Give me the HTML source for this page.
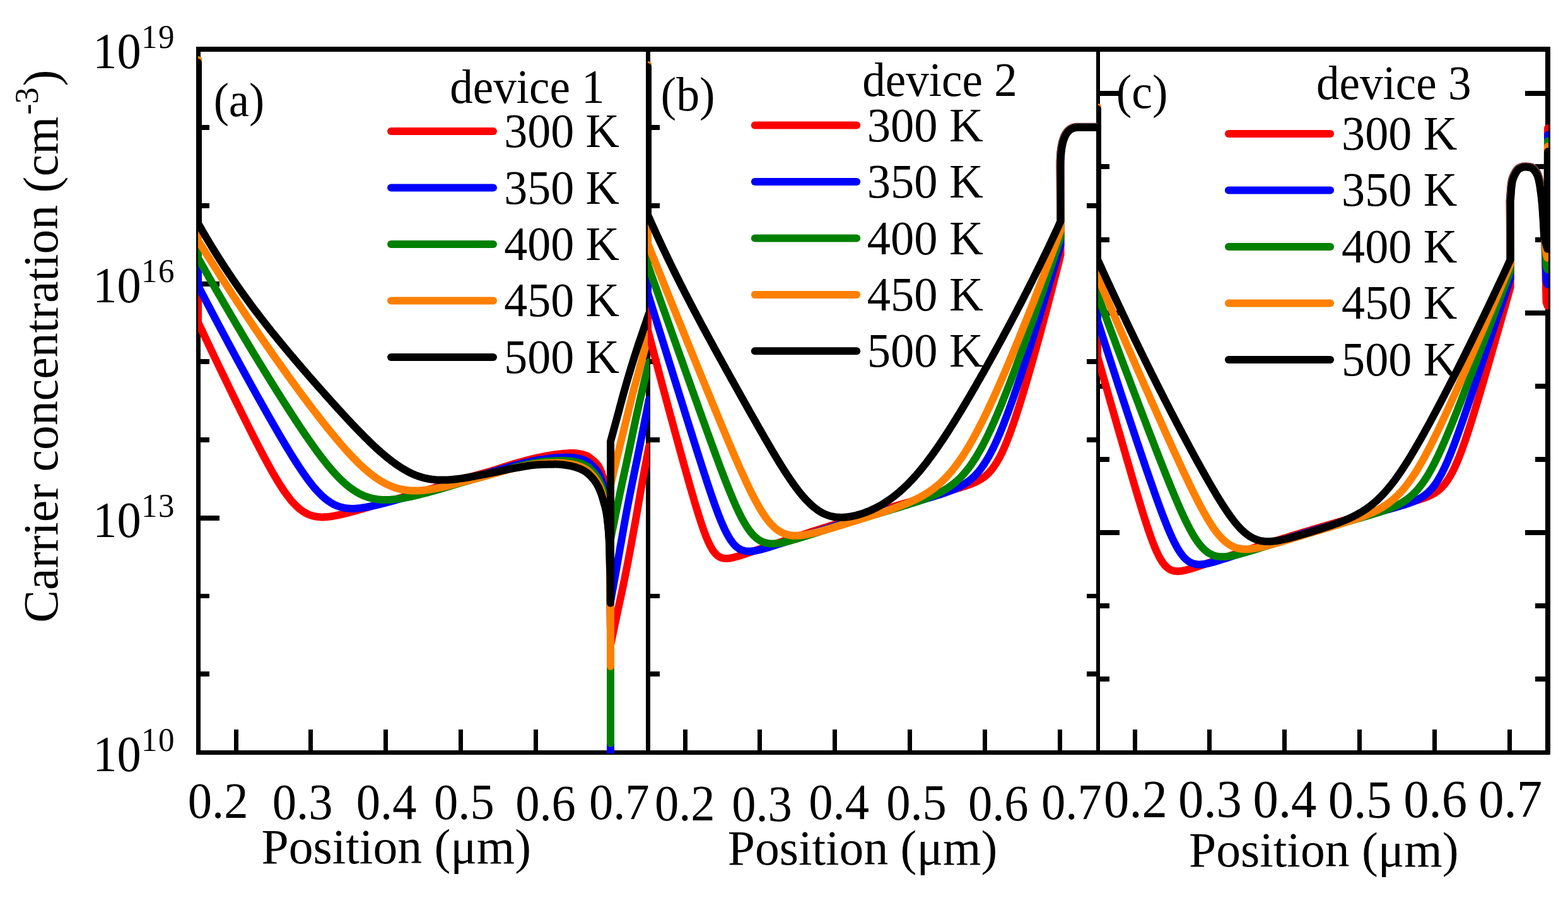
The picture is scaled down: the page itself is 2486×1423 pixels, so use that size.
<!DOCTYPE html>
<html lang="en">
<head>
<meta charset="utf-8">
<title>Carrier concentration vs position</title>
<style>
html,body{margin:0;padding:0;background:#fff;}
body{width:2486px;height:1423px;overflow:hidden;}
svg{display:block;}
text{font-family:"Liberation Serif","Times New Roman",Times,serif;fill:#000;}
</style>
</head>
<body>
<svg xmlns="http://www.w3.org/2000/svg" width="2486" height="1423" viewBox="0 0 2486 1423">
<defs>
<clipPath id="ca"><rect x="314" y="74" width="715.2" height="1120"/></clipPath>
<clipPath id="cb"><rect x="1027" y="74" width="717.5" height="1120"/></clipPath>
<clipPath id="cc"><rect x="1741" y="74" width="714" height="1120"/></clipPath>
</defs>
<rect width="2486" height="1423" fill="#fff"/>
<g fill="#000" shape-rendering="crispEdges">
<rect x="311.00" y="74.08" width="2146.95" height="7.85"/>
<rect x="311.00" y="1189.10" width="2146.95" height="6.90"/>
<rect x="311.00" y="78.00" width="6.90" height="1114.55"/>
<rect x="1024.15" y="78.00" width="6.90" height="1114.55"/>
<rect x="1737.55" y="78.00" width="6.90" height="1114.55"/>
<rect x="2450.40" y="78.00" width="7.60" height="1114.55"/>
<rect x="314.45" y="198.38" width="17.95" height="7.85"/>
<rect x="314.45" y="322.07" width="17.95" height="7.85"/>
<rect x="314.45" y="445.78" width="33.95" height="7.85"/>
<rect x="314.45" y="569.48" width="17.95" height="7.85"/>
<rect x="314.45" y="693.18" width="17.95" height="7.85"/>
<rect x="314.45" y="816.88" width="33.95" height="7.85"/>
<rect x="314.45" y="940.58" width="17.95" height="7.85"/>
<rect x="314.45" y="1064.28" width="17.95" height="7.85"/>
<rect x="1027.60" y="198.38" width="17.95" height="7.85"/>
<rect x="1723.05" y="198.38" width="17.95" height="7.85"/>
<rect x="1027.60" y="322.07" width="17.95" height="7.85"/>
<rect x="1723.05" y="322.07" width="17.95" height="7.85"/>
<rect x="1027.60" y="569.48" width="17.95" height="7.85"/>
<rect x="1723.05" y="569.48" width="17.95" height="7.85"/>
<rect x="1027.60" y="693.18" width="17.95" height="7.85"/>
<rect x="1723.05" y="693.18" width="17.95" height="7.85"/>
<rect x="1027.60" y="940.58" width="17.95" height="7.85"/>
<rect x="1723.05" y="940.58" width="17.95" height="7.85"/>
<rect x="1027.60" y="1064.28" width="17.95" height="7.85"/>
<rect x="1723.05" y="1064.28" width="17.95" height="7.85"/>
<rect x="1741.00" y="143.67" width="33.95" height="7.85"/>
<rect x="2418.40" y="143.67" width="35.80" height="7.85"/>
<rect x="1741.00" y="259.68" width="17.95" height="7.85"/>
<rect x="2434.40" y="259.68" width="19.80" height="7.85"/>
<rect x="1741.00" y="375.68" width="17.95" height="7.85"/>
<rect x="2434.40" y="375.68" width="19.80" height="7.85"/>
<rect x="1741.00" y="491.68" width="33.95" height="7.85"/>
<rect x="2418.40" y="491.68" width="35.80" height="7.85"/>
<rect x="1741.00" y="607.68" width="17.95" height="7.85"/>
<rect x="2434.40" y="607.68" width="19.80" height="7.85"/>
<rect x="1741.00" y="723.68" width="17.95" height="7.85"/>
<rect x="2434.40" y="723.68" width="19.80" height="7.85"/>
<rect x="1741.00" y="839.68" width="33.95" height="7.85"/>
<rect x="2418.40" y="839.68" width="35.80" height="7.85"/>
<rect x="1741.00" y="955.68" width="17.95" height="7.85"/>
<rect x="2434.40" y="955.68" width="19.80" height="7.85"/>
<rect x="1741.00" y="1071.67" width="17.95" height="7.85"/>
<rect x="2434.40" y="1071.67" width="19.80" height="7.85"/>
<rect x="370.50" y="1156.15" width="7.00" height="36.40"/>
<rect x="489.40" y="1156.15" width="7.00" height="36.40"/>
<rect x="608.30" y="1156.15" width="7.00" height="36.40"/>
<rect x="727.20" y="1156.15" width="7.00" height="36.40"/>
<rect x="846.10" y="1156.15" width="7.00" height="36.40"/>
<rect x="965.00" y="1156.15" width="7.00" height="36.40"/>
<rect x="1082.50" y="1156.15" width="7.00" height="36.40"/>
<rect x="1201.40" y="1156.15" width="7.00" height="36.40"/>
<rect x="1320.30" y="1156.15" width="7.00" height="36.40"/>
<rect x="1439.20" y="1156.15" width="7.00" height="36.40"/>
<rect x="1558.10" y="1156.15" width="7.00" height="36.40"/>
<rect x="1677.00" y="1156.15" width="7.00" height="36.40"/>
<rect x="1795.50" y="1156.15" width="7.00" height="36.40"/>
<rect x="1914.40" y="1156.15" width="7.00" height="36.40"/>
<rect x="2033.30" y="1156.15" width="7.00" height="36.40"/>
<rect x="2152.20" y="1156.15" width="7.00" height="36.40"/>
<rect x="2271.10" y="1156.15" width="7.00" height="36.40"/>
<rect x="2390.00" y="1156.15" width="7.00" height="36.40"/>
</g>
<g fill="none" stroke-width="12" stroke-linejoin="round" stroke-linecap="round">
<g clip-path="url(#ca)">
<path d="M314.0 95.0 L314.0 510.7 L314.5 511.7 L316.0 514.9 L317.5 518.1 L319.0 521.2 L320.5 524.4 L322.0 527.6 L323.5 530.8 L325.0 533.9 L326.5 537.1 L328.0 540.3 L329.5 543.4 L331.0 546.6 L332.5 549.8 L334.0 552.9 L335.5 556.1 L337.0 559.2 L338.5 562.4 L340.0 565.5 L341.5 568.6 L343.0 571.8 L344.5 574.9 L346.0 578.0 L347.5 581.2 L349.0 584.3 L350.5 587.4 L352.0 590.5 L353.5 593.6 L355.0 596.7 L356.5 599.8 L358.0 602.9 L359.5 606.0 L361.0 609.1 L362.5 612.2 L364.0 615.3 L365.5 618.4 L367.0 621.5 L368.5 624.5 L370.0 627.6 L371.5 630.7 L373.0 633.7 L374.5 636.8 L376.0 639.9 L377.5 642.9 L379.0 645.9 L380.5 649.0 L382.0 652.0 L383.5 655.1 L385.0 658.1 L386.5 661.1 L388.0 664.1 L389.5 667.1 L391.0 670.1 L392.5 673.1 L394.0 676.1 L395.5 679.1 L397.0 682.1 L398.5 685.0 L400.0 688.0 L401.5 691.0 L403.0 693.9 L404.5 696.8 L406.0 699.8 L407.5 702.7 L409.0 705.6 L410.5 708.5 L412.0 711.4 L413.5 714.2 L415.0 717.1 L416.5 719.9 L418.0 722.8 L419.5 725.6 L421.0 728.4 L422.5 731.1 L424.0 733.9 L425.5 736.7 L427.0 739.4 L428.5 742.1 L430.0 744.8 L431.5 747.4 L433.0 750.0 L434.5 752.6 L436.0 755.2 L437.5 757.7 L439.0 760.3 L440.5 762.7 L442.0 765.2 L443.5 767.6 L445.0 769.9 L446.5 772.3 L448.0 774.5 L449.5 776.8 L451.0 779.0 L452.5 781.1 L454.0 783.2 L455.5 785.2 L457.0 787.2 L458.5 789.2 L460.0 791.0 L461.5 792.8 L463.0 794.6 L464.5 796.3 L466.0 797.9 L467.5 799.5 L469.0 801.0 L470.5 802.5 L472.0 803.8 L473.5 805.2 L475.0 806.4 L476.5 807.6 L478.0 808.7 L479.5 809.8 L481.0 810.8 L482.5 811.7 L484.0 812.6 L485.5 813.4 L487.0 814.2 L488.5 814.9 L490.0 815.5 L491.5 816.1 L493.0 816.6 L494.5 817.1 L496.0 817.5 L497.5 817.9 L499.0 818.2 L500.5 818.5 L502.0 818.7 L503.5 818.9 L505.0 819.1 L506.5 819.2 L508.0 819.3 L509.5 819.4 L511.0 819.4 L512.5 819.4 L514.0 819.3 L515.5 819.3 L517.0 819.2 L518.5 819.1 L520.0 818.9 L521.5 818.8 L523.0 818.6 L524.5 818.4 L526.0 818.2 L527.5 817.9 L529.0 817.7 L530.5 817.4 L532.0 817.1 L533.5 816.8 L535.0 816.5 L536.5 816.2 L538.0 815.9 L539.5 815.6 L541.0 815.2 L542.5 814.9 L544.0 814.5 L545.5 814.2 L547.0 813.8 L548.5 813.4 L550.0 813.1 L551.5 812.7 L553.0 812.3 L554.5 811.9 L556.0 811.5 L557.5 811.1 L559.0 810.7 L560.5 810.3 L562.0 809.9 L563.5 809.5 L565.0 809.0 L566.5 808.6 L568.0 808.2 L569.5 807.8 L571.0 807.3 L572.5 806.9 L574.0 806.5 L575.5 806.1 L577.0 805.6 L578.5 805.2 L580.0 804.8 L581.5 804.4 L583.0 803.9 L584.5 803.5 L586.0 803.1 L587.5 802.6 L589.0 802.2 L590.5 801.8 L592.0 801.4 L593.5 800.9 L595.0 800.5 L596.5 800.1 L598.0 799.6 L599.5 799.2 L601.0 798.8 L602.5 798.4 L604.0 797.9 L605.5 797.5 L607.0 797.1 L608.5 796.6 L610.0 796.2 L611.5 795.8 L613.0 795.4 L614.5 794.9 L616.0 794.5 L617.5 794.1 L619.0 793.6 L620.5 793.2 L622.0 792.8 L623.5 792.3 L625.0 791.9 L626.5 791.5 L628.0 791.0 L629.5 790.6 L631.0 790.1 L632.5 789.7 L634.0 789.3 L635.5 788.8 L637.0 788.4 L638.5 787.9 L640.0 787.5 L641.5 787.1 L643.0 786.6 L644.5 786.2 L646.0 785.7 L647.5 785.3 L649.0 784.9 L650.5 784.4 L652.0 784.0 L653.5 783.5 L655.0 783.1 L656.5 782.7 L658.0 782.2 L659.5 781.8 L661.0 781.3 L662.5 780.9 L664.0 780.4 L665.5 780.0 L667.0 779.6 L668.5 779.1 L670.0 778.7 L671.5 778.2 L673.0 777.8 L674.5 777.3 L676.0 776.9 L677.5 776.4 L679.0 776.0 L680.5 775.5 L682.0 775.1 L683.5 774.6 L685.0 774.2 L686.5 773.7 L688.0 773.3 L689.5 772.8 L691.0 772.4 L692.5 771.9 L694.0 771.4 L695.5 771.0 L697.0 770.5 L698.5 770.1 L700.0 769.6 L701.5 769.1 L703.0 768.7 L704.5 768.2 L706.0 767.7 L707.5 767.3 L709.0 766.8 L710.5 766.4 L712.0 765.9 L713.5 765.4 L715.0 765.0 L716.5 764.5 L718.0 764.0 L719.5 763.6 L721.0 763.1 L722.5 762.7 L724.0 762.2 L725.5 761.7 L727.0 761.3 L728.5 760.8 L730.0 760.4 L731.5 759.9 L733.0 759.5 L734.5 759.0 L736.0 758.6 L737.5 758.1 L739.0 757.7 L740.5 757.3 L742.0 756.8 L743.5 756.4 L745.0 756.0 L746.5 755.5 L748.0 755.1 L749.5 754.7 L751.0 754.3 L752.5 753.9 L754.0 753.4 L755.5 753.0 L757.0 752.6 L758.5 752.2 L760.0 751.8 L761.5 751.4 L763.0 750.9 L764.5 750.5 L766.0 750.1 L767.5 749.7 L769.0 749.3 L770.5 748.8 L772.0 748.4 L773.5 748.0 L775.0 747.6 L776.5 747.1 L778.0 746.7 L779.5 746.2 L781.0 745.8 L782.5 745.3 L784.0 744.9 L785.5 744.4 L787.0 743.9 L788.5 743.4 L790.0 742.9 L791.5 742.5 L793.0 742.0 L794.5 741.5 L796.0 741.0 L797.5 740.5 L799.0 740.0 L800.5 739.5 L802.0 739.0 L803.5 738.6 L805.0 738.1 L806.5 737.6 L808.0 737.1 L809.5 736.7 L811.0 736.2 L812.5 735.8 L814.0 735.3 L815.5 734.9 L817.0 734.5 L818.5 734.0 L820.0 733.6 L821.5 733.2 L823.0 732.8 L824.5 732.4 L826.0 731.9 L827.5 731.5 L829.0 731.1 L830.5 730.7 L832.0 730.3 L833.5 729.9 L835.0 729.5 L836.5 729.1 L838.0 728.7 L839.5 728.4 L841.0 728.0 L842.5 727.6 L844.0 727.2 L845.5 726.9 L847.0 726.5 L848.5 726.2 L850.0 725.9 L851.5 725.5 L853.0 725.2 L854.5 724.9 L856.0 724.6 L857.5 724.3 L859.0 724.0 L860.5 723.7 L862.0 723.4 L863.5 723.1 L865.0 722.8 L866.5 722.5 L868.0 722.2 L869.5 721.9 L871.0 721.7 L872.5 721.4 L874.0 721.2 L875.5 720.9 L877.0 720.7 L878.5 720.5 L880.0 720.3 L881.5 720.1 L883.0 719.9 L884.5 719.7 L886.0 719.6 L887.5 719.4 L889.0 719.3 L890.5 719.1 L892.0 719.0 L893.5 718.8 L895.0 718.7 L896.5 718.5 L898.0 718.4 L899.5 718.3 L901.0 718.2 L902.5 718.1 L904.0 718.1 L905.5 718.0 L907.0 718.0 L908.5 718.0 L910.0 718.1 L911.5 718.1 L913.0 718.3 L914.5 718.5 L916.0 718.7 L917.5 718.9 L919.0 719.2 L920.5 719.4 L922.0 719.7 L923.5 720.0 L925.0 720.4 L926.5 720.9 L928.0 721.4 L929.5 722.0 L930.0 722.2 L930.2 722.3 L930.5 722.4 L930.8 722.6 L931.0 722.7 L931.2 722.8 L931.5 722.9 L931.8 723.1 L932.0 723.2 L932.2 723.4 L932.5 723.5 L932.8 723.7 L933.0 723.8 L933.2 724.0 L933.5 724.2 L933.8 724.4 L934.0 724.5 L934.2 724.7 L934.5 724.9 L934.8 725.1 L935.0 725.3 L935.2 725.5 L935.5 725.7 L935.8 725.9 L936.0 726.1 L936.2 726.3 L936.5 726.5 L936.8 726.7 L937.0 726.9 L937.2 727.1 L937.5 727.3 L937.8 727.5 L938.0 727.7 L938.2 727.9 L938.5 728.2 L938.8 728.4 L939.0 728.6 L939.2 728.8 L939.5 729.0 L939.8 729.2 L940.0 729.4 L940.2 729.6 L940.5 729.8 L940.8 730.0 L941.0 730.2 L941.2 730.4 L941.5 730.6 L941.8 730.9 L942.0 731.1 L942.2 731.3 L942.5 731.5 L942.8 731.7 L943.0 732.0 L943.2 732.2 L943.5 732.4 L943.8 732.7 L944.0 732.9 L944.2 733.1 L944.5 733.4 L944.8 733.7 L945.0 733.9 L945.2 734.2 L945.5 734.4 L945.8 734.7 L946.0 735.0 L946.2 735.3 L946.5 735.6 L946.8 735.9 L947.0 736.2 L947.2 736.5 L947.5 736.8 L947.8 737.2 L948.0 737.5 L948.2 737.9 L948.5 738.3 L948.8 738.6 L949.0 739.1 L949.2 739.5 L949.5 739.9 L949.8 740.4 L950.0 740.8 L950.2 741.3 L950.5 741.8 L950.8 742.3 L951.0 742.8 L951.2 743.3 L951.5 743.9 L951.8 744.4 L952.0 745.0 L952.2 745.6 L952.5 746.1 L952.8 746.7 L953.0 747.3 L953.2 747.9 L953.5 748.6 L953.8 749.2 L954.0 749.9 L954.2 750.6 L954.5 751.4 L954.8 752.1 L955.0 752.9 L955.2 753.7 L955.5 754.5 L955.8 755.3 L956.0 756.2 L956.2 757.1 L956.5 758.0 L956.8 759.0 L957.0 760.0 L957.2 761.0 L957.5 762.1 L957.8 763.2 L958.0 764.3 L958.2 765.5 L958.5 766.7 L958.8 768.0 L959.0 769.3 L959.2 770.6 L959.5 772.0 L959.8 773.5 L960.0 775.0 L960.2 776.6 L960.5 778.2 L960.8 779.9 L961.0 781.7 L961.2 783.7 L961.5 785.7 L961.8 787.8 L962.0 790.0 L962.2 792.3 L962.5 794.7 L962.8 797.3 L963.0 800.0 L963.2 802.8 L963.5 805.8 L963.8 809.0 L964.0 812.4 L964.2 816.1 L964.5 820.0 L964.8 824.4 L965.0 829.1 L965.2 834.3 L965.5 840.0 L965.8 846.5 L966.0 854.3 L966.2 863.4 L966.5 874.0 L966.8 886.2 L967.0 900.0 L967.2 918.1 L967.5 941.9 L967.8 969.7 L968.0 1000.0 L968.0 1210.0 L968.0 1022.0 L969.5 1014.9 L971.0 1007.8 L972.5 1000.7 L974.0 993.6 L975.5 986.5 L977.0 979.4 L978.5 972.4 L980.0 965.3 L981.5 958.3 L983.0 951.4 L984.5 944.5 L986.0 937.5 L987.5 930.5 L989.0 923.3 L990.5 916.0 L992.0 908.5 L993.5 900.9 L995.0 893.1 L996.5 885.3 L998.0 877.4 L999.5 869.3 L1001.0 861.3 L1002.5 853.1 L1004.0 844.9 L1005.5 836.7 L1007.0 828.4 L1008.5 820.1 L1010.0 811.5 L1011.5 802.9 L1013.0 794.2 L1014.5 785.5 L1016.0 776.8 L1017.5 768.3 L1019.0 760.0 L1020.5 751.8 L1022.0 743.8 L1023.5 735.8 L1025.0 727.9 L1026.5 720.0 L1028.0 712.3 L1029.0 707.2" stroke="#ff0000"/>
<path d="M314.0 95.0 L314.0 452.7 L314.5 453.7 L316.0 456.6 L317.5 459.4 L319.0 462.3 L320.5 465.2 L322.0 468.1 L323.5 471.0 L325.0 473.8 L326.5 476.7 L328.0 479.5 L329.5 482.4 L331.0 485.3 L332.5 488.1 L334.0 491.0 L335.5 493.8 L337.0 496.7 L338.5 499.5 L340.0 502.3 L341.5 505.2 L343.0 508.0 L344.5 510.8 L346.0 513.7 L347.5 516.5 L349.0 519.3 L350.5 522.1 L352.0 524.9 L353.5 527.7 L355.0 530.6 L356.5 533.4 L358.0 536.2 L359.5 539.0 L361.0 541.8 L362.5 544.5 L364.0 547.3 L365.5 550.1 L367.0 552.9 L368.5 555.7 L370.0 558.5 L371.5 561.2 L373.0 564.0 L374.5 566.8 L376.0 569.5 L377.5 572.3 L379.0 575.1 L380.5 577.8 L382.0 580.6 L383.5 583.3 L385.0 586.0 L386.5 588.8 L388.0 591.5 L389.5 594.3 L391.0 597.0 L392.5 599.7 L394.0 602.4 L395.5 605.2 L397.0 607.9 L398.5 610.6 L400.0 613.3 L401.5 616.0 L403.0 618.7 L404.5 621.4 L406.0 624.1 L407.5 626.8 L409.0 629.5 L410.5 632.2 L412.0 634.8 L413.5 637.5 L415.0 640.2 L416.5 642.8 L418.0 645.5 L419.5 648.2 L421.0 650.8 L422.5 653.5 L424.0 656.1 L425.5 658.7 L427.0 661.4 L428.5 664.0 L430.0 666.6 L431.5 669.2 L433.0 671.8 L434.5 674.4 L436.0 677.0 L437.5 679.6 L439.0 682.2 L440.5 684.8 L442.0 687.4 L443.5 689.9 L445.0 692.5 L446.5 695.0 L448.0 697.5 L449.5 700.1 L451.0 702.6 L452.5 705.1 L454.0 707.6 L455.5 710.1 L457.0 712.5 L458.5 715.0 L460.0 717.4 L461.5 719.9 L463.0 722.3 L464.5 724.7 L466.0 727.1 L467.5 729.4 L469.0 731.8 L470.5 734.1 L472.0 736.4 L473.5 738.7 L475.0 741.0 L476.5 743.2 L478.0 745.5 L479.5 747.7 L481.0 749.9 L482.5 752.0 L484.0 754.1 L485.5 756.2 L487.0 758.3 L488.5 760.3 L490.0 762.3 L491.5 764.3 L493.0 766.2 L494.5 768.1 L496.0 770.0 L497.5 771.8 L499.0 773.6 L500.5 775.3 L502.0 777.0 L503.5 778.6 L505.0 780.2 L506.5 781.8 L508.0 783.3 L509.5 784.7 L511.0 786.2 L512.5 787.5 L514.0 788.8 L515.5 790.1 L517.0 791.3 L518.5 792.5 L520.0 793.6 L521.5 794.6 L523.0 795.6 L524.5 796.6 L526.0 797.5 L527.5 798.3 L529.0 799.1 L530.5 799.9 L532.0 800.6 L533.5 801.2 L535.0 801.8 L536.5 802.4 L538.0 802.9 L539.5 803.4 L541.0 803.8 L542.5 804.2 L544.0 804.5 L545.5 804.8 L547.0 805.1 L548.5 805.3 L550.0 805.5 L551.5 805.6 L553.0 805.8 L554.5 805.8 L556.0 805.9 L557.5 805.9 L559.0 805.9 L560.5 805.9 L562.0 805.9 L563.5 805.8 L565.0 805.7 L566.5 805.6 L568.0 805.5 L569.5 805.3 L571.0 805.1 L572.5 804.9 L574.0 804.7 L575.5 804.5 L577.0 804.3 L578.5 804.1 L580.0 803.8 L581.5 803.5 L583.0 803.3 L584.5 803.0 L586.0 802.7 L587.5 802.4 L589.0 802.1 L590.5 801.7 L592.0 801.4 L593.5 801.1 L595.0 800.7 L596.5 800.4 L598.0 800.0 L599.5 799.7 L601.0 799.3 L602.5 799.0 L604.0 798.6 L605.5 798.2 L607.0 797.8 L608.5 797.5 L610.0 797.1 L611.5 796.7 L613.0 796.3 L614.5 795.9 L616.0 795.5 L617.5 795.1 L619.0 794.7 L620.5 794.3 L622.0 793.9 L623.5 793.5 L625.0 793.1 L626.5 792.7 L628.0 792.2 L629.5 791.8 L631.0 791.4 L632.5 791.0 L634.0 790.6 L635.5 790.1 L637.0 789.7 L638.5 789.3 L640.0 788.9 L641.5 788.4 L643.0 788.0 L644.5 787.6 L646.0 787.1 L647.5 786.7 L649.0 786.3 L650.5 785.8 L652.0 785.4 L653.5 785.0 L655.0 784.5 L656.5 784.1 L658.0 783.7 L659.5 783.2 L661.0 782.8 L662.5 782.4 L664.0 781.9 L665.5 781.5 L667.0 781.1 L668.5 780.6 L670.0 780.2 L671.5 779.7 L673.0 779.3 L674.5 778.9 L676.0 778.4 L677.5 778.0 L679.0 777.5 L680.5 777.1 L682.0 776.6 L683.5 776.2 L685.0 775.7 L686.5 775.3 L688.0 774.8 L689.5 774.4 L691.0 773.9 L692.5 773.5 L694.0 773.0 L695.5 772.6 L697.0 772.1 L698.5 771.7 L700.0 771.2 L701.5 770.7 L703.0 770.3 L704.5 769.8 L706.0 769.4 L707.5 768.9 L709.0 768.4 L710.5 768.0 L712.0 767.5 L713.5 767.1 L715.0 766.6 L716.5 766.1 L718.0 765.7 L719.5 765.2 L721.0 764.8 L722.5 764.3 L724.0 763.9 L725.5 763.4 L727.0 763.0 L728.5 762.5 L730.0 762.1 L731.5 761.6 L733.0 761.2 L734.5 760.7 L736.0 760.3 L737.5 759.8 L739.0 759.4 L740.5 759.0 L742.0 758.5 L743.5 758.1 L745.0 757.7 L746.5 757.2 L748.0 756.8 L749.5 756.4 L751.0 756.0 L752.5 755.6 L754.0 755.1 L755.5 754.7 L757.0 754.3 L758.5 753.9 L760.0 753.5 L761.5 753.1 L763.0 752.7 L764.5 752.3 L766.0 751.8 L767.5 751.4 L769.0 751.0 L770.5 750.6 L772.0 750.2 L773.5 749.8 L775.0 749.4 L776.5 748.9 L778.0 748.5 L779.5 748.1 L781.0 747.6 L782.5 747.2 L784.0 746.8 L785.5 746.3 L787.0 745.9 L788.5 745.4 L790.0 744.9 L791.5 744.5 L793.0 744.0 L794.5 743.6 L796.0 743.1 L797.5 742.6 L799.0 742.2 L800.5 741.7 L802.0 741.3 L803.5 740.8 L805.0 740.4 L806.5 740.0 L808.0 739.5 L809.5 739.1 L811.0 738.7 L812.5 738.3 L814.0 737.9 L815.5 737.5 L817.0 737.1 L818.5 736.7 L820.0 736.3 L821.5 736.0 L823.0 735.6 L824.5 735.2 L826.0 734.8 L827.5 734.5 L829.0 734.1 L830.5 733.7 L832.0 733.4 L833.5 733.0 L835.0 732.7 L836.5 732.3 L838.0 732.0 L839.5 731.6 L841.0 731.3 L842.5 731.0 L844.0 730.7 L845.5 730.4 L847.0 730.1 L848.5 729.8 L850.0 729.5 L851.5 729.3 L853.0 729.0 L854.5 728.8 L856.0 728.5 L857.5 728.3 L859.0 728.1 L860.5 727.9 L862.0 727.6 L863.5 727.4 L865.0 727.2 L866.5 727.0 L868.0 726.8 L869.5 726.6 L871.0 726.4 L872.5 726.2 L874.0 726.0 L875.5 725.9 L877.0 725.7 L878.5 725.5 L880.0 725.4 L881.5 725.3 L883.0 725.2 L884.5 725.1 L886.0 725.0 L887.5 724.9 L889.0 724.8 L890.5 724.8 L892.0 724.7 L893.5 724.7 L895.0 724.7 L896.5 724.7 L898.0 724.7 L899.5 724.7 L901.0 724.7 L902.5 724.7 L904.0 724.7 L905.5 724.8 L907.0 724.9 L908.5 725.0 L910.0 725.2 L911.5 725.4 L913.0 725.7 L914.5 725.9 L916.0 726.3 L917.5 726.6 L919.0 726.9 L920.5 727.3 L922.0 727.7 L923.5 728.2 L925.0 728.7 L926.5 729.3 L928.0 730.0 L929.5 730.7 L930.0 731.0 L930.2 731.1 L930.5 731.3 L930.8 731.4 L931.0 731.6 L931.2 731.7 L931.5 731.9 L931.8 732.0 L932.0 732.2 L932.2 732.4 L932.5 732.5 L932.8 732.7 L933.0 732.9 L933.2 733.1 L933.5 733.3 L933.8 733.5 L934.0 733.7 L934.2 733.9 L934.5 734.1 L934.8 734.3 L935.0 734.5 L935.2 734.7 L935.5 734.9 L935.8 735.1 L936.0 735.3 L936.2 735.6 L936.5 735.8 L936.8 736.0 L937.0 736.2 L937.2 736.5 L937.5 736.7 L937.8 736.9 L938.0 737.1 L938.2 737.4 L938.5 737.6 L938.8 737.8 L939.0 738.1 L939.2 738.3 L939.5 738.5 L939.8 738.8 L940.0 739.0 L940.2 739.2 L940.5 739.5 L940.8 739.7 L941.0 740.0 L941.2 740.2 L941.5 740.4 L941.8 740.7 L942.0 740.9 L942.2 741.2 L942.5 741.5 L942.8 741.7 L943.0 742.0 L943.2 742.3 L943.5 742.5 L943.8 742.8 L944.0 743.1 L944.2 743.4 L944.5 743.7 L944.8 744.0 L945.0 744.3 L945.2 744.6 L945.5 744.9 L945.8 745.2 L946.0 745.5 L946.2 745.9 L946.5 746.2 L946.8 746.5 L947.0 746.9 L947.2 747.2 L947.5 747.6 L947.8 748.0 L948.0 748.3 L948.2 748.7 L948.5 749.2 L948.8 749.6 L949.0 750.0 L949.2 750.5 L949.5 751.0 L949.8 751.4 L950.0 751.9 L950.2 752.4 L950.5 753.0 L950.8 753.5 L951.0 754.0 L951.2 754.6 L951.5 755.2 L951.8 755.7 L952.0 756.3 L952.2 756.9 L952.5 757.5 L952.8 758.1 L953.0 758.8 L953.2 759.4 L953.5 760.1 L953.8 760.8 L954.0 761.5 L954.2 762.2 L954.5 762.9 L954.8 763.7 L955.0 764.5 L955.2 765.3 L955.5 766.1 L955.8 767.0 L956.0 767.8 L956.2 768.7 L956.5 769.6 L956.8 770.6 L957.0 771.5 L957.2 772.5 L957.5 773.5 L957.8 774.5 L958.0 775.6 L958.2 776.7 L958.5 777.8 L958.8 778.9 L959.0 780.1 L959.2 781.3 L959.5 782.6 L959.8 783.9 L960.0 785.2 L960.2 786.6 L960.5 788.1 L960.8 789.6 L961.0 791.3 L961.2 793.0 L961.5 794.8 L961.8 796.7 L962.0 798.7 L962.2 800.9 L962.5 803.1 L962.8 805.5 L963.0 808.0 L963.2 810.7 L963.5 813.4 L963.8 816.4 L964.0 819.4 L964.2 822.7 L964.5 826.3 L964.8 830.1 L965.0 834.2 L965.2 838.8 L965.5 843.9 L965.8 849.7 L966.0 856.7 L966.2 865.3 L966.5 875.5 L966.8 887.7 L967.0 901.5 L967.2 919.6 L967.5 943.4 L967.8 971.2 L968.0 1001.5 L968.0 1210.0 L968.0 953.0 L969.5 944.8 L971.0 936.5 L972.5 928.3 L974.0 920.0 L975.5 911.7 L977.0 903.2 L978.5 894.8 L980.0 886.2 L981.5 877.7 L983.0 869.1 L984.5 860.6 L986.0 852.1 L987.5 843.6 L989.0 835.2 L990.5 826.9 L992.0 818.7 L993.5 810.6 L995.0 802.6 L996.5 794.8 L998.0 787.2 L999.5 779.7 L1001.0 772.3 L1002.5 764.9 L1004.0 757.5 L1005.5 750.1 L1007.0 742.8 L1008.5 735.5 L1010.0 728.2 L1011.5 720.8 L1013.0 713.5 L1014.5 706.0 L1016.0 698.6 L1017.5 691.1 L1019.0 683.6 L1020.5 676.1 L1022.0 668.5 L1023.5 660.9 L1025.0 653.4 L1026.5 645.7 L1028.0 638.1 L1029.0 633.0" stroke="#0000ff"/>
<path d="M314.0 95.0 L314.0 408.7 L314.5 409.7 L316.0 412.4 L317.5 415.0 L319.0 417.7 L320.5 420.3 L322.0 423.0 L323.5 425.6 L325.0 428.2 L326.5 430.9 L328.0 433.5 L329.5 436.1 L331.0 438.8 L332.5 441.4 L334.0 444.0 L335.5 446.6 L337.0 449.2 L338.5 451.8 L340.0 454.5 L341.5 457.1 L343.0 459.7 L344.5 462.3 L346.0 464.9 L347.5 467.5 L349.0 470.0 L350.5 472.6 L352.0 475.2 L353.5 477.8 L355.0 480.4 L356.5 482.9 L358.0 485.5 L359.5 488.1 L361.0 490.7 L362.5 493.2 L364.0 495.8 L365.5 498.3 L367.0 500.9 L368.5 503.4 L370.0 506.0 L371.5 508.5 L373.0 511.1 L374.5 513.6 L376.0 516.2 L377.5 518.7 L379.0 521.2 L380.5 523.7 L382.0 526.3 L383.5 528.8 L385.0 531.3 L386.5 533.8 L388.0 536.3 L389.5 538.8 L391.0 541.3 L392.5 543.8 L394.0 546.3 L395.5 548.8 L397.0 551.3 L398.5 553.8 L400.0 556.3 L401.5 558.8 L403.0 561.3 L404.5 563.7 L406.0 566.2 L407.5 568.7 L409.0 571.1 L410.5 573.6 L412.0 576.1 L413.5 578.5 L415.0 581.0 L416.5 583.4 L418.0 585.9 L419.5 588.3 L421.0 590.7 L422.5 593.2 L424.0 595.6 L425.5 598.0 L427.0 600.4 L428.5 602.9 L430.0 605.3 L431.5 607.7 L433.0 610.1 L434.5 612.5 L436.0 614.9 L437.5 617.3 L439.0 619.7 L440.5 622.1 L442.0 624.4 L443.5 626.8 L445.0 629.2 L446.5 631.5 L448.0 633.9 L449.5 636.3 L451.0 638.6 L452.5 641.0 L454.0 643.3 L455.5 645.6 L457.0 648.0 L458.5 650.3 L460.0 652.6 L461.5 654.9 L463.0 657.2 L464.5 659.5 L466.0 661.8 L467.5 664.1 L469.0 666.4 L470.5 668.7 L472.0 670.9 L473.5 673.2 L475.0 675.4 L476.5 677.7 L478.0 679.9 L479.5 682.1 L481.0 684.4 L482.5 686.6 L484.0 688.8 L485.5 691.0 L487.0 693.1 L488.5 695.3 L490.0 697.5 L491.5 699.6 L493.0 701.7 L494.5 703.9 L496.0 706.0 L497.5 708.1 L499.0 710.2 L500.5 712.2 L502.0 714.3 L503.5 716.3 L505.0 718.3 L506.5 720.4 L508.0 722.3 L509.5 724.3 L511.0 726.3 L512.5 728.2 L514.0 730.1 L515.5 732.0 L517.0 733.9 L518.5 735.8 L520.0 737.6 L521.5 739.4 L523.0 741.2 L524.5 743.0 L526.0 744.7 L527.5 746.5 L529.0 748.1 L530.5 749.8 L532.0 751.4 L533.5 753.1 L535.0 754.6 L536.5 756.2 L538.0 757.7 L539.5 759.2 L541.0 760.7 L542.5 762.1 L544.0 763.5 L545.5 764.9 L547.0 766.2 L548.5 767.5 L550.0 768.8 L551.5 770.0 L553.0 771.2 L554.5 772.4 L556.0 773.5 L557.5 774.6 L559.0 775.6 L560.5 776.7 L562.0 777.6 L563.5 778.6 L565.0 779.5 L566.5 780.4 L568.0 781.2 L569.5 782.1 L571.0 782.8 L572.5 783.6 L574.0 784.3 L575.5 785.0 L577.0 785.6 L578.5 786.2 L580.0 786.8 L581.5 787.3 L583.0 787.8 L584.5 788.3 L586.0 788.7 L587.5 789.1 L589.0 789.5 L590.5 789.9 L592.0 790.2 L593.5 790.5 L595.0 790.7 L596.5 791.0 L598.0 791.2 L599.5 791.4 L601.0 791.6 L602.5 791.7 L604.0 791.8 L605.5 791.9 L607.0 792.0 L608.5 792.0 L610.0 792.0 L611.5 792.1 L613.0 792.0 L614.5 792.0 L616.0 792.0 L617.5 791.9 L619.0 791.8 L620.5 791.7 L622.0 791.6 L623.5 791.5 L625.0 791.3 L626.5 791.2 L628.0 791.0 L629.5 790.8 L631.0 790.6 L632.5 790.4 L634.0 790.2 L635.5 789.9 L637.0 789.7 L638.5 789.4 L640.0 789.2 L641.5 788.9 L643.0 788.6 L644.5 788.3 L646.0 788.1 L647.5 787.7 L649.0 787.4 L650.5 787.1 L652.0 786.8 L653.5 786.5 L655.0 786.1 L656.5 785.8 L658.0 785.5 L659.5 785.1 L661.0 784.7 L662.5 784.4 L664.0 784.0 L665.5 783.7 L667.0 783.3 L668.5 782.9 L670.0 782.5 L671.5 782.1 L673.0 781.7 L674.5 781.4 L676.0 781.0 L677.5 780.6 L679.0 780.2 L680.5 779.8 L682.0 779.4 L683.5 778.9 L685.0 778.5 L686.5 778.1 L688.0 777.7 L689.5 777.3 L691.0 776.9 L692.5 776.4 L694.0 776.0 L695.5 775.6 L697.0 775.1 L698.5 774.7 L700.0 774.2 L701.5 773.8 L703.0 773.4 L704.5 772.9 L706.0 772.5 L707.5 772.0 L709.0 771.6 L710.5 771.1 L712.0 770.7 L713.5 770.2 L715.0 769.8 L716.5 769.3 L718.0 768.9 L719.5 768.4 L721.0 768.0 L722.5 767.5 L724.0 767.1 L725.5 766.6 L727.0 766.2 L728.5 765.8 L730.0 765.3 L731.5 764.9 L733.0 764.4 L734.5 764.0 L736.0 763.5 L737.5 763.1 L739.0 762.7 L740.5 762.2 L742.0 761.8 L743.5 761.4 L745.0 761.0 L746.5 760.5 L748.0 760.1 L749.5 759.7 L751.0 759.3 L752.5 758.9 L754.0 758.5 L755.5 758.0 L757.0 757.6 L758.5 757.2 L760.0 756.8 L761.5 756.4 L763.0 756.0 L764.5 755.6 L766.0 755.2 L767.5 754.8 L769.0 754.3 L770.5 753.9 L772.0 753.5 L773.5 753.1 L775.0 752.7 L776.5 752.2 L778.0 751.8 L779.5 751.4 L781.0 750.9 L782.5 750.5 L784.0 750.0 L785.5 749.6 L787.0 749.1 L788.5 748.6 L790.0 748.2 L791.5 747.7 L793.0 747.2 L794.5 746.8 L796.0 746.3 L797.5 745.8 L799.0 745.4 L800.5 744.9 L802.0 744.5 L803.5 744.0 L805.0 743.6 L806.5 743.1 L808.0 742.7 L809.5 742.3 L811.0 741.9 L812.5 741.5 L814.0 741.1 L815.5 740.7 L817.0 740.3 L818.5 739.9 L820.0 739.6 L821.5 739.2 L823.0 738.8 L824.5 738.5 L826.0 738.1 L827.5 737.7 L829.0 737.4 L830.5 737.0 L832.0 736.7 L833.5 736.4 L835.0 736.0 L836.5 735.7 L838.0 735.4 L839.5 735.1 L841.0 734.8 L842.5 734.5 L844.0 734.2 L845.5 733.9 L847.0 733.6 L848.5 733.4 L850.0 733.1 L851.5 732.9 L853.0 732.7 L854.5 732.5 L856.0 732.3 L857.5 732.2 L859.0 732.0 L860.5 731.8 L862.0 731.6 L863.5 731.5 L865.0 731.3 L866.5 731.2 L868.0 731.0 L869.5 730.9 L871.0 730.7 L872.5 730.6 L874.0 730.5 L875.5 730.4 L877.0 730.3 L878.5 730.2 L880.0 730.1 L881.5 730.0 L883.0 729.9 L884.5 729.9 L886.0 729.9 L887.5 729.9 L889.0 729.9 L890.5 729.9 L892.0 729.9 L893.5 730.0 L895.0 730.1 L896.5 730.1 L898.0 730.2 L899.5 730.3 L901.0 730.4 L902.5 730.6 L904.0 730.7 L905.5 730.8 L907.0 731.0 L908.5 731.2 L910.0 731.5 L911.5 731.8 L913.0 732.2 L914.5 732.6 L916.0 733.0 L917.5 733.4 L919.0 733.8 L920.5 734.3 L922.0 734.8 L923.5 735.4 L925.0 736.1 L926.5 736.8 L928.0 737.6 L929.5 738.4 L930.0 738.7 L930.2 738.9 L930.5 739.0 L930.8 739.2 L931.0 739.4 L931.2 739.5 L931.5 739.7 L931.8 739.9 L932.0 740.1 L932.2 740.3 L932.5 740.5 L932.8 740.7 L933.0 740.9 L933.2 741.1 L933.5 741.3 L933.8 741.5 L934.0 741.7 L934.2 741.9 L934.5 742.1 L934.8 742.3 L935.0 742.6 L935.2 742.8 L935.5 743.0 L935.8 743.3 L936.0 743.5 L936.2 743.7 L936.5 744.0 L936.8 744.2 L937.0 744.4 L937.2 744.7 L937.5 744.9 L937.8 745.2 L938.0 745.4 L938.2 745.7 L938.5 745.9 L938.8 746.2 L939.0 746.4 L939.2 746.7 L939.5 746.9 L939.8 747.2 L940.0 747.5 L940.2 747.7 L940.5 748.0 L940.8 748.3 L941.0 748.5 L941.2 748.8 L941.5 749.1 L941.8 749.4 L942.0 749.7 L942.2 749.9 L942.5 750.2 L942.8 750.5 L943.0 750.8 L943.2 751.1 L943.5 751.4 L943.8 751.8 L944.0 752.1 L944.2 752.4 L944.5 752.7 L944.8 753.1 L945.0 753.4 L945.2 753.7 L945.5 754.1 L945.8 754.4 L946.0 754.8 L946.2 755.2 L946.5 755.5 L946.8 755.9 L947.0 756.3 L947.2 756.7 L947.5 757.1 L947.8 757.5 L948.0 757.9 L948.2 758.3 L948.5 758.7 L948.8 759.2 L949.0 759.7 L949.2 760.2 L949.5 760.7 L949.8 761.2 L950.0 761.7 L950.2 762.2 L950.5 762.8 L950.8 763.3 L951.0 763.9 L951.2 764.5 L951.5 765.1 L951.8 765.7 L952.0 766.3 L952.2 766.9 L952.5 767.5 L952.8 768.2 L953.0 768.8 L953.2 769.5 L953.5 770.2 L953.8 770.9 L954.0 771.6 L954.2 772.4 L954.5 773.1 L954.8 773.9 L955.0 774.7 L955.2 775.5 L955.5 776.4 L955.8 777.2 L956.0 778.1 L956.2 779.0 L956.5 779.9 L956.8 780.8 L957.0 781.7 L957.2 782.6 L957.5 783.6 L957.8 784.6 L958.0 785.5 L958.2 786.5 L958.5 787.5 L958.8 788.6 L959.0 789.6 L959.2 790.7 L959.5 791.8 L959.8 793.0 L960.0 794.2 L960.2 795.5 L960.5 796.8 L960.8 798.2 L961.0 799.6 L961.2 801.2 L961.5 802.8 L961.8 804.5 L962.0 806.4 L962.2 808.4 L962.5 810.6 L962.8 812.8 L963.0 815.2 L963.2 817.6 L963.5 820.2 L963.8 822.9 L964.0 825.7 L964.2 828.7 L964.5 831.8 L964.8 835.2 L965.0 838.9 L965.2 843.0 L965.5 847.6 L965.8 853.0 L966.0 859.9 L966.2 868.6 L966.5 879.0 L966.8 891.2 L967.0 905.0 L967.2 923.1 L967.5 946.8 L967.8 974.7 L968.0 1005.0 L968.0 1178.0 L968.0 855.0 L969.5 847.4 L971.0 839.9 L972.5 832.4 L974.0 825.0 L975.5 817.6 L977.0 810.3 L978.5 803.0 L980.0 795.8 L981.5 788.6 L983.0 781.4 L984.5 774.3 L986.0 767.3 L987.5 760.2 L989.0 753.3 L990.5 746.3 L992.0 739.4 L993.5 732.4 L995.0 725.4 L996.5 718.4 L998.0 711.4 L999.5 704.3 L1001.0 697.1 L1002.5 689.9 L1004.0 682.7 L1005.5 675.6 L1007.0 668.5 L1008.5 661.6 L1010.0 654.8 L1011.5 648.1 L1013.0 641.4 L1014.5 634.8 L1016.0 628.3 L1017.5 621.8 L1019.0 615.4 L1020.5 609.0 L1022.0 602.7 L1023.5 596.4 L1025.0 590.2 L1026.5 584.0 L1028.0 577.9 L1029.0 573.8" stroke="#008000"/>
<path d="M314.0 95.0 L314.0 380.6 L314.5 381.6 L316.0 384.1 L317.5 386.5 L319.0 388.9 L320.5 391.3 L322.0 393.7 L323.5 396.1 L325.0 398.5 L326.5 400.9 L328.0 403.3 L329.5 405.7 L331.0 408.1 L332.5 410.5 L334.0 412.9 L335.5 415.3 L337.0 417.6 L338.5 420.0 L340.0 422.4 L341.5 424.7 L343.0 427.1 L344.5 429.4 L346.0 431.8 L347.5 434.1 L349.0 436.5 L350.5 438.8 L352.0 441.2 L353.5 443.5 L355.0 445.8 L356.5 448.2 L358.0 450.5 L359.5 452.8 L361.0 455.1 L362.5 457.4 L364.0 459.8 L365.5 462.1 L367.0 464.4 L368.5 466.7 L370.0 469.0 L371.5 471.3 L373.0 473.5 L374.5 475.8 L376.0 478.1 L377.5 480.4 L379.0 482.7 L380.5 484.9 L382.0 487.2 L383.5 489.5 L385.0 491.7 L386.5 494.0 L388.0 496.2 L389.5 498.5 L391.0 500.7 L392.5 503.0 L394.0 505.2 L395.5 507.4 L397.0 509.7 L398.5 511.9 L400.0 514.1 L401.5 516.3 L403.0 518.6 L404.5 520.8 L406.0 523.0 L407.5 525.2 L409.0 527.4 L410.5 529.6 L412.0 531.8 L413.5 534.0 L415.0 536.2 L416.5 538.3 L418.0 540.5 L419.5 542.7 L421.0 544.9 L422.5 547.0 L424.0 549.2 L425.5 551.4 L427.0 553.5 L428.5 555.7 L430.0 557.8 L431.5 560.0 L433.0 562.1 L434.5 564.3 L436.0 566.4 L437.5 568.5 L439.0 570.7 L440.5 572.8 L442.0 574.9 L443.5 577.0 L445.0 579.1 L446.5 581.2 L448.0 583.3 L449.5 585.4 L451.0 587.5 L452.5 589.6 L454.0 591.7 L455.5 593.8 L457.0 595.9 L458.5 598.0 L460.0 600.0 L461.5 602.1 L463.0 604.2 L464.5 606.2 L466.0 608.3 L467.5 610.3 L469.0 612.4 L470.5 614.4 L472.0 616.5 L473.5 618.5 L475.0 620.5 L476.5 622.6 L478.0 624.6 L479.5 626.6 L481.0 628.6 L482.5 630.6 L484.0 632.6 L485.5 634.6 L487.0 636.6 L488.5 638.6 L490.0 640.6 L491.5 642.6 L493.0 644.6 L494.5 646.5 L496.0 648.5 L497.5 650.5 L499.0 652.4 L500.5 654.4 L502.0 656.3 L503.5 658.2 L505.0 660.2 L506.5 662.1 L508.0 664.0 L509.5 665.9 L511.0 667.8 L512.5 669.7 L514.0 671.6 L515.5 673.5 L517.0 675.4 L518.5 677.3 L520.0 679.1 L521.5 681.0 L523.0 682.8 L524.5 684.7 L526.0 686.5 L527.5 688.3 L529.0 690.2 L530.5 692.0 L532.0 693.8 L533.5 695.6 L535.0 697.3 L536.5 699.1 L538.0 700.9 L539.5 702.6 L541.0 704.4 L542.5 706.1 L544.0 707.8 L545.5 709.5 L547.0 711.2 L548.5 712.9 L550.0 714.6 L551.5 716.2 L553.0 717.9 L554.5 719.5 L556.0 721.1 L557.5 722.7 L559.0 724.3 L560.5 725.8 L562.0 727.4 L563.5 728.9 L565.0 730.4 L566.5 731.9 L568.0 733.4 L569.5 734.9 L571.0 736.3 L572.5 737.7 L574.0 739.1 L575.5 740.5 L577.0 741.9 L578.5 743.2 L580.0 744.5 L581.5 745.8 L583.0 747.1 L584.5 748.4 L586.0 749.6 L587.5 750.8 L589.0 752.0 L590.5 753.1 L592.0 754.2 L593.5 755.3 L595.0 756.4 L596.5 757.5 L598.0 758.5 L599.5 759.5 L601.0 760.4 L602.5 761.4 L604.0 762.3 L605.5 763.2 L607.0 764.0 L608.5 764.9 L610.0 765.7 L611.5 766.5 L613.0 767.2 L614.5 767.9 L616.0 768.6 L617.5 769.3 L619.0 769.9 L620.5 770.6 L622.0 771.2 L623.5 771.7 L625.0 772.2 L626.5 772.7 L628.0 773.2 L629.5 773.7 L631.0 774.1 L632.5 774.5 L634.0 774.9 L635.5 775.2 L637.0 775.5 L638.5 775.8 L640.0 776.1 L641.5 776.3 L643.0 776.5 L644.5 776.7 L646.0 776.9 L647.5 777.1 L649.0 777.2 L650.5 777.3 L652.0 777.4 L653.5 777.5 L655.0 777.5 L656.5 777.5 L658.0 777.6 L659.5 777.5 L661.0 777.5 L662.5 777.5 L664.0 777.4 L665.5 777.3 L667.0 777.3 L668.5 777.2 L670.0 777.0 L671.5 776.9 L673.0 776.8 L674.5 776.6 L676.0 776.4 L677.5 776.2 L679.0 776.0 L680.5 775.8 L682.0 775.6 L683.5 775.4 L685.0 775.1 L686.5 774.9 L688.0 774.6 L689.5 774.4 L691.0 774.1 L692.5 773.8 L694.0 773.5 L695.5 773.2 L697.0 772.9 L698.5 772.5 L700.0 772.2 L701.5 771.9 L703.0 771.5 L704.5 771.2 L706.0 770.8 L707.5 770.5 L709.0 770.1 L710.5 769.7 L712.0 769.4 L713.5 769.0 L715.0 768.6 L716.5 768.2 L718.0 767.9 L719.5 767.5 L721.0 767.1 L722.5 766.7 L724.0 766.3 L725.5 765.9 L727.0 765.5 L728.5 765.1 L730.0 764.7 L731.5 764.3 L733.0 763.9 L734.5 763.5 L736.0 763.1 L737.5 762.7 L739.0 762.3 L740.5 761.9 L742.0 761.5 L743.5 761.1 L745.0 760.7 L746.5 760.3 L748.0 759.9 L749.5 759.5 L751.0 759.1 L752.5 758.7 L754.0 758.3 L755.5 757.9 L757.0 757.5 L758.5 757.1 L760.0 756.7 L761.5 756.3 L763.0 755.9 L764.5 755.5 L766.0 755.1 L767.5 754.7 L769.0 754.3 L770.5 754.0 L772.0 753.6 L773.5 753.2 L775.0 752.8 L776.5 752.3 L778.0 751.9 L779.5 751.5 L781.0 751.1 L782.5 750.7 L784.0 750.3 L785.5 749.8 L787.0 749.4 L788.5 749.0 L790.0 748.6 L791.5 748.1 L793.0 747.7 L794.5 747.3 L796.0 746.8 L797.5 746.4 L799.0 746.0 L800.5 745.6 L802.0 745.1 L803.5 744.7 L805.0 744.3 L806.5 743.9 L808.0 743.6 L809.5 743.2 L811.0 742.8 L812.5 742.5 L814.0 742.1 L815.5 741.8 L817.0 741.4 L818.5 741.1 L820.0 740.8 L821.5 740.5 L823.0 740.2 L824.5 739.8 L826.0 739.5 L827.5 739.2 L829.0 738.9 L830.5 738.6 L832.0 738.3 L833.5 738.0 L835.0 737.7 L836.5 737.4 L838.0 737.1 L839.5 736.9 L841.0 736.6 L842.5 736.4 L844.0 736.1 L845.5 735.9 L847.0 735.7 L848.5 735.5 L850.0 735.3 L851.5 735.1 L853.0 735.0 L854.5 734.8 L856.0 734.7 L857.5 734.6 L859.0 734.5 L860.5 734.4 L862.0 734.3 L863.5 734.2 L865.0 734.1 L866.5 734.0 L868.0 733.9 L869.5 733.8 L871.0 733.7 L872.5 733.7 L874.0 733.6 L875.5 733.5 L877.0 733.5 L878.5 733.4 L880.0 733.4 L881.5 733.3 L883.0 733.3 L884.5 733.3 L886.0 733.4 L887.5 733.4 L889.0 733.5 L890.5 733.6 L892.0 733.7 L893.5 733.8 L895.0 734.0 L896.5 734.1 L898.0 734.3 L899.5 734.5 L901.0 734.7 L902.5 734.9 L904.0 735.1 L905.5 735.3 L907.0 735.6 L908.5 735.9 L910.0 736.2 L911.5 736.6 L913.0 737.0 L914.5 737.5 L916.0 738.0 L917.5 738.5 L919.0 739.0 L920.5 739.6 L922.0 740.2 L923.5 740.9 L925.0 741.6 L926.5 742.4 L928.0 743.3 L929.5 744.2 L930.0 744.5 L930.2 744.7 L930.5 744.9 L930.8 745.1 L931.0 745.3 L931.2 745.5 L931.5 745.6 L931.8 745.8 L932.0 746.0 L932.2 746.2 L932.5 746.5 L932.8 746.7 L933.0 746.9 L933.2 747.1 L933.5 747.3 L933.8 747.5 L934.0 747.7 L934.2 748.0 L934.5 748.2 L934.8 748.4 L935.0 748.7 L935.2 748.9 L935.5 749.1 L935.8 749.4 L936.0 749.6 L936.2 749.9 L936.5 750.1 L936.8 750.4 L937.0 750.6 L937.2 750.9 L937.5 751.1 L937.8 751.4 L938.0 751.7 L938.2 751.9 L938.5 752.2 L938.8 752.5 L939.0 752.7 L939.2 753.0 L939.5 753.3 L939.8 753.6 L940.0 753.8 L940.2 754.1 L940.5 754.4 L940.8 754.7 L941.0 755.0 L941.2 755.3 L941.5 755.6 L941.8 755.9 L942.0 756.2 L942.2 756.5 L942.5 756.9 L942.8 757.2 L943.0 757.5 L943.2 757.8 L943.5 758.2 L943.8 758.5 L944.0 758.9 L944.2 759.2 L944.5 759.6 L944.8 759.9 L945.0 760.3 L945.2 760.6 L945.5 761.0 L945.8 761.4 L946.0 761.8 L946.2 762.2 L946.5 762.6 L946.8 763.0 L947.0 763.4 L947.2 763.8 L947.5 764.2 L947.8 764.6 L948.0 765.1 L948.2 765.5 L948.5 766.0 L948.8 766.5 L949.0 767.0 L949.2 767.5 L949.5 768.0 L949.8 768.5 L950.0 769.1 L950.2 769.6 L950.5 770.2 L950.8 770.8 L951.0 771.4 L951.2 772.0 L951.5 772.6 L951.8 773.2 L952.0 773.8 L952.2 774.5 L952.5 775.1 L952.8 775.8 L953.0 776.4 L953.2 777.1 L953.5 777.8 L953.8 778.5 L954.0 779.3 L954.2 780.0 L954.5 780.8 L954.8 781.6 L955.0 782.4 L955.2 783.2 L955.5 784.1 L955.8 784.9 L956.0 785.8 L956.2 786.7 L956.5 787.6 L956.8 788.5 L957.0 789.4 L957.2 790.3 L957.5 791.2 L957.8 792.1 L958.0 793.1 L958.2 794.0 L958.5 794.9 L958.8 795.9 L959.0 796.8 L959.2 797.8 L959.5 798.8 L959.8 799.9 L960.0 801.0 L960.2 802.2 L960.5 803.4 L960.8 804.6 L961.0 806.0 L961.2 807.4 L961.5 808.9 L961.8 810.5 L962.0 812.2 L962.2 814.1 L962.5 816.1 L962.8 818.2 L963.0 820.5 L963.2 822.8 L963.5 825.2 L963.8 827.8 L964.0 830.4 L964.2 833.1 L964.5 835.9 L964.8 838.9 L965.0 842.2 L965.2 845.8 L965.5 849.9 L965.8 854.7 L966.0 860.9 L966.2 868.9 L966.5 879.0 L966.8 891.1 L967.0 905.0 L967.2 923.0 L967.5 946.8 L967.8 974.5 L968.0 1004.6 L968.0 1056.0 L968.0 769.0 L969.5 762.6 L971.0 756.1 L972.5 749.7 L974.0 743.3 L975.5 737.0 L977.0 730.7 L978.5 724.4 L980.0 718.1 L981.5 711.9 L983.0 705.7 L984.5 699.5 L986.0 693.4 L987.5 687.3 L989.0 681.2 L990.5 675.1 L992.0 669.1 L993.5 663.0 L995.0 656.8 L996.5 650.6 L998.0 644.4 L999.5 638.3 L1001.0 632.2 L1002.5 626.2 L1004.0 620.4 L1005.5 614.7 L1007.0 609.3 L1008.5 603.9 L1010.0 598.5 L1011.5 593.1 L1013.0 587.6 L1014.5 582.1 L1016.0 576.5 L1017.5 571.0 L1019.0 565.4 L1020.5 559.8 L1022.0 554.3 L1023.5 548.8 L1025.0 543.2 L1026.5 537.7 L1028.0 532.2 L1029.0 528.5" stroke="#ff8000"/>
<path d="M314.0 99.0 L314.0 353.7 L314.5 354.7 L316.0 357.4 L317.5 360.0 L319.0 362.6 L320.5 365.2 L322.0 367.8 L323.5 370.4 L325.0 372.9 L326.5 375.5 L328.0 378.0 L329.5 380.5 L331.0 383.0 L332.5 385.5 L334.0 388.0 L335.5 390.5 L337.0 392.9 L338.5 395.4 L340.0 397.8 L341.5 400.2 L343.0 402.6 L344.5 405.0 L346.0 407.4 L347.5 409.8 L349.0 412.1 L350.5 414.4 L352.0 416.8 L353.5 419.1 L355.0 421.4 L356.5 423.7 L358.0 426.0 L359.5 428.2 L361.0 430.5 L362.5 432.8 L364.0 435.0 L365.5 437.2 L367.0 439.4 L368.5 441.6 L370.0 443.8 L371.5 446.0 L373.0 448.2 L374.5 450.4 L376.0 452.5 L377.5 454.7 L379.0 456.8 L380.5 458.9 L382.0 461.1 L383.5 463.2 L385.0 465.3 L386.5 467.4 L388.0 469.4 L389.5 471.5 L391.0 473.6 L392.5 475.6 L394.0 477.7 L395.5 479.7 L397.0 481.8 L398.5 483.8 L400.0 485.8 L401.5 487.8 L403.0 489.8 L404.5 491.8 L406.0 493.8 L407.5 495.7 L409.0 497.7 L410.5 499.7 L412.0 501.6 L413.5 503.6 L415.0 505.5 L416.5 507.5 L418.0 509.4 L419.5 511.3 L421.0 513.2 L422.5 515.1 L424.0 517.0 L425.5 518.9 L427.0 520.8 L428.5 522.7 L430.0 524.6 L431.5 526.5 L433.0 528.3 L434.5 530.2 L436.0 532.0 L437.5 533.9 L439.0 535.7 L440.5 537.6 L442.0 539.4 L443.5 541.2 L445.0 543.1 L446.5 544.9 L448.0 546.7 L449.5 548.5 L451.0 550.3 L452.5 552.1 L454.0 553.9 L455.5 555.7 L457.0 557.5 L458.5 559.3 L460.0 561.1 L461.5 562.9 L463.0 564.6 L464.5 566.4 L466.0 568.2 L467.5 570.0 L469.0 571.7 L470.5 573.5 L472.0 575.2 L473.5 577.0 L475.0 578.7 L476.5 580.5 L478.0 582.2 L479.5 584.0 L481.0 585.7 L482.5 587.4 L484.0 589.2 L485.5 590.9 L487.0 592.6 L488.5 594.4 L490.0 596.1 L491.5 597.8 L493.0 599.5 L494.5 601.2 L496.0 602.9 L497.5 604.7 L499.0 606.4 L500.5 608.1 L502.0 609.8 L503.5 611.5 L505.0 613.2 L506.5 614.9 L508.0 616.6 L509.5 618.2 L511.0 619.9 L512.5 621.6 L514.0 623.3 L515.5 625.0 L517.0 626.7 L518.5 628.4 L520.0 630.0 L521.5 631.7 L523.0 633.4 L524.5 635.0 L526.0 636.7 L527.5 638.4 L529.0 640.0 L530.5 641.7 L532.0 643.3 L533.5 645.0 L535.0 646.7 L536.5 648.3 L538.0 649.9 L539.5 651.6 L541.0 653.2 L542.5 654.9 L544.0 656.5 L545.5 658.1 L547.0 659.7 L548.5 661.4 L550.0 663.0 L551.5 664.6 L553.0 666.2 L554.5 667.8 L556.0 669.4 L557.5 671.0 L559.0 672.6 L560.5 674.2 L562.0 675.7 L563.5 677.3 L565.0 678.9 L566.5 680.4 L568.0 682.0 L569.5 683.5 L571.0 685.1 L572.5 686.6 L574.0 688.1 L575.5 689.6 L577.0 691.2 L578.5 692.7 L580.0 694.2 L581.5 695.6 L583.0 697.1 L584.5 698.6 L586.0 700.1 L587.5 701.5 L589.0 702.9 L590.5 704.4 L592.0 705.8 L593.5 707.2 L595.0 708.6 L596.5 710.0 L598.0 711.4 L599.5 712.7 L601.0 714.1 L602.5 715.4 L604.0 716.7 L605.5 718.0 L607.0 719.3 L608.5 720.6 L610.0 721.8 L611.5 723.1 L613.0 724.3 L614.5 725.5 L616.0 726.7 L617.5 727.9 L619.0 729.1 L620.5 730.2 L622.0 731.4 L623.5 732.5 L625.0 733.6 L626.5 734.7 L628.0 735.7 L629.5 736.8 L631.0 737.8 L632.5 738.8 L634.0 739.8 L635.5 740.7 L637.0 741.7 L638.5 742.6 L640.0 743.5 L641.5 744.4 L643.0 745.2 L644.5 746.1 L646.0 746.9 L647.5 747.7 L649.0 748.5 L650.5 749.2 L652.0 750.0 L653.5 750.7 L655.0 751.3 L656.5 752.0 L658.0 752.6 L659.5 753.2 L661.0 753.8 L662.5 754.3 L664.0 754.9 L665.5 755.3 L667.0 755.8 L668.5 756.3 L670.0 756.7 L671.5 757.1 L673.0 757.5 L674.5 757.8 L676.0 758.1 L677.5 758.5 L679.0 758.7 L680.5 759.0 L682.0 759.2 L683.5 759.5 L685.0 759.7 L686.5 759.8 L688.0 760.0 L689.5 760.2 L691.0 760.3 L692.5 760.4 L694.0 760.5 L695.5 760.5 L697.0 760.6 L698.5 760.6 L700.0 760.6 L701.5 760.6 L703.0 760.6 L704.5 760.6 L706.0 760.6 L707.5 760.5 L709.0 760.5 L710.5 760.4 L712.0 760.3 L713.5 760.2 L715.0 760.1 L716.5 759.9 L718.0 759.8 L719.5 759.7 L721.0 759.5 L722.5 759.3 L724.0 759.2 L725.5 759.0 L727.0 758.8 L728.5 758.6 L730.0 758.4 L731.5 758.2 L733.0 757.9 L734.5 757.7 L736.0 757.5 L737.5 757.2 L739.0 757.0 L740.5 756.8 L742.0 756.5 L743.5 756.2 L745.0 756.0 L746.5 755.7 L748.0 755.4 L749.5 755.1 L751.0 754.8 L752.5 754.5 L754.0 754.2 L755.5 753.9 L757.0 753.7 L758.5 753.4 L760.0 753.1 L761.5 752.8 L763.0 752.5 L764.5 752.2 L766.0 751.9 L767.5 751.7 L769.0 751.4 L770.5 751.1 L772.0 750.8 L773.5 750.5 L775.0 750.2 L776.5 749.9 L778.0 749.6 L779.5 749.3 L781.0 749.0 L782.5 748.7 L784.0 748.4 L785.5 748.1 L787.0 747.8 L788.5 747.4 L790.0 747.1 L791.5 746.8 L793.0 746.4 L794.5 746.1 L796.0 745.8 L797.5 745.4 L799.0 745.1 L800.5 744.8 L802.0 744.5 L803.5 744.1 L805.0 743.8 L806.5 743.5 L808.0 743.2 L809.5 742.9 L811.0 742.6 L812.5 742.3 L814.0 742.1 L815.5 741.8 L817.0 741.6 L818.5 741.3 L820.0 741.1 L821.5 740.8 L823.0 740.5 L824.5 740.3 L826.0 740.0 L827.5 739.8 L829.0 739.5 L830.5 739.2 L832.0 739.0 L833.5 738.7 L835.0 738.5 L836.5 738.3 L838.0 738.0 L839.5 737.8 L841.0 737.6 L842.5 737.4 L844.0 737.2 L845.5 737.0 L847.0 736.9 L848.5 736.7 L850.0 736.6 L851.5 736.5 L853.0 736.4 L854.5 736.3 L856.0 736.2 L857.5 736.2 L859.0 736.1 L860.5 736.1 L862.0 736.0 L863.5 736.0 L865.0 735.9 L866.5 735.9 L868.0 735.8 L869.5 735.8 L871.0 735.8 L872.5 735.7 L874.0 735.7 L875.5 735.7 L877.0 735.7 L878.5 735.7 L880.0 735.6 L881.5 735.6 L883.0 735.7 L884.5 735.7 L886.0 735.8 L887.5 735.9 L889.0 736.0 L890.5 736.2 L892.0 736.3 L893.5 736.5 L895.0 736.7 L896.5 737.0 L898.0 737.2 L899.5 737.4 L901.0 737.7 L902.5 737.9 L904.0 738.2 L905.5 738.5 L907.0 738.8 L908.5 739.2 L910.0 739.6 L911.5 740.0 L913.0 740.5 L914.5 741.0 L916.0 741.6 L917.5 742.1 L919.0 742.7 L920.5 743.3 L922.0 744.0 L923.5 744.7 L925.0 745.5 L926.5 746.4 L928.0 747.3 L929.5 748.4 L930.0 748.7 L930.2 748.9 L930.5 749.1 L930.8 749.3 L931.0 749.5 L931.2 749.7 L931.5 749.9 L931.8 750.1 L932.0 750.3 L932.2 750.5 L932.5 750.7 L932.8 751.0 L933.0 751.2 L933.2 751.4 L933.5 751.6 L933.8 751.9 L934.0 752.1 L934.2 752.3 L934.5 752.6 L934.8 752.8 L935.0 753.1 L935.2 753.3 L935.5 753.5 L935.8 753.8 L936.0 754.1 L936.2 754.3 L936.5 754.6 L936.8 754.8 L937.0 755.1 L937.2 755.3 L937.5 755.6 L937.8 755.9 L938.0 756.2 L938.2 756.4 L938.5 756.7 L938.8 757.0 L939.0 757.3 L939.2 757.6 L939.5 757.8 L939.8 758.1 L940.0 758.4 L940.2 758.7 L940.5 759.0 L940.8 759.3 L941.0 759.7 L941.2 760.0 L941.5 760.3 L941.8 760.6 L942.0 760.9 L942.2 761.3 L942.5 761.6 L942.8 762.0 L943.0 762.3 L943.2 762.7 L943.5 763.0 L943.8 763.4 L944.0 763.7 L944.2 764.1 L944.5 764.5 L944.8 764.9 L945.0 765.2 L945.2 765.6 L945.5 766.0 L945.8 766.4 L946.0 766.8 L946.2 767.2 L946.5 767.7 L946.8 768.1 L947.0 768.5 L947.2 768.9 L947.5 769.4 L947.8 769.8 L948.0 770.3 L948.2 770.7 L948.5 771.2 L948.8 771.7 L949.0 772.2 L949.2 772.8 L949.5 773.3 L949.8 773.8 L950.0 774.4 L950.2 775.0 L950.5 775.6 L950.8 776.2 L951.0 776.8 L951.2 777.4 L951.5 778.0 L951.8 778.6 L952.0 779.3 L952.2 779.9 L952.5 780.6 L952.8 781.2 L953.0 781.9 L953.2 782.6 L953.5 783.3 L953.8 784.1 L954.0 784.8 L954.2 785.6 L954.5 786.4 L954.8 787.2 L955.0 788.0 L955.2 788.8 L955.5 789.7 L955.8 790.5 L956.0 791.4 L956.2 792.3 L956.5 793.1 L956.8 794.0 L957.0 794.9 L957.2 795.8 L957.5 796.7 L957.8 797.6 L958.0 798.5 L958.2 799.3 L958.5 800.2 L958.8 801.1 L959.0 802.0 L959.2 802.9 L959.5 803.9 L959.8 804.9 L960.0 805.9 L960.2 807.0 L960.5 808.1 L960.8 809.3 L961.0 810.5 L961.2 811.8 L961.5 813.2 L961.8 814.7 L962.0 816.4 L962.2 818.2 L962.5 820.1 L962.8 822.2 L963.0 824.3 L963.2 826.5 L963.5 828.9 L963.8 831.3 L964.0 833.7 L964.2 836.2 L964.5 838.8 L964.8 841.5 L965.0 844.5 L965.2 847.8 L965.5 851.5 L965.8 855.8 L966.0 861.3 L966.2 868.1 L966.5 875.9 L966.8 884.7 L967.0 894.9 L967.2 906.6 L967.5 919.8 L967.8 936.1 L968.0 955.5 L968.0 955.8 L968.0 699.5 L969.5 694.1 L971.0 688.6 L972.5 683.2 L974.0 677.7 L975.5 672.2 L977.0 666.7 L978.5 661.2 L980.0 655.6 L981.5 650.0 L983.0 644.3 L984.5 638.7 L986.0 633.1 L987.5 627.6 L989.0 622.2 L990.5 616.9 L992.0 611.6 L993.5 606.4 L995.0 601.2 L996.5 596.1 L998.0 591.0 L999.5 586.0 L1001.0 581.1 L1002.5 576.2 L1004.0 571.3 L1005.5 566.5 L1007.0 561.8 L1008.5 557.1 L1010.0 552.5 L1011.5 547.9 L1013.0 543.5 L1014.5 539.0 L1016.0 534.7 L1017.5 530.3 L1019.0 525.9 L1020.5 521.5 L1022.0 517.0 L1023.5 512.6 L1025.0 508.2 L1026.5 503.8 L1028.0 499.4 L1029.0 496.5" stroke="#000000"/>
</g>
<g clip-path="url(#cb)">
<path d="M1027.0 103.0 L1027.0 521.9 L1027.0 522.9 L1028.5 528.6 L1030.0 534.3 L1031.5 540.0 L1033.0 545.7 L1034.5 551.4 L1036.0 557.1 L1037.5 562.8 L1039.0 568.5 L1040.5 574.1 L1042.0 579.8 L1043.5 585.4 L1045.0 591.1 L1046.5 596.7 L1048.0 602.3 L1049.5 608.0 L1051.0 613.6 L1052.5 619.2 L1054.0 624.8 L1055.5 630.3 L1057.0 635.9 L1058.5 641.5 L1060.0 647.1 L1061.5 652.6 L1063.0 658.2 L1064.5 663.7 L1066.0 669.2 L1067.5 674.7 L1069.0 680.3 L1070.5 685.8 L1072.0 691.2 L1073.5 696.7 L1075.0 702.2 L1076.5 707.7 L1078.0 713.1 L1079.5 718.5 L1081.0 724.0 L1082.5 729.4 L1084.0 734.8 L1085.5 740.1 L1087.0 745.5 L1088.5 750.9 L1090.0 756.2 L1091.5 761.5 L1093.0 766.8 L1094.5 772.0 L1096.0 777.2 L1097.5 782.4 L1099.0 787.6 L1100.5 792.7 L1102.0 797.7 L1103.5 802.7 L1105.0 807.7 L1106.5 812.5 L1108.0 817.3 L1109.5 822.0 L1111.0 826.6 L1112.5 831.1 L1114.0 835.5 L1115.5 839.7 L1117.0 843.8 L1118.5 847.8 L1120.0 851.6 L1121.5 855.2 L1123.0 858.6 L1124.5 861.8 L1126.0 864.8 L1127.5 867.5 L1129.0 870.1 L1130.5 872.4 L1132.0 874.5 L1133.5 876.3 L1135.0 878.0 L1136.5 879.4 L1138.0 880.6 L1139.5 881.7 L1141.0 882.6 L1142.5 883.3 L1144.0 883.9 L1145.5 884.3 L1147.0 884.6 L1148.5 884.8 L1150.0 884.9 L1151.5 885.0 L1153.0 884.9 L1154.5 884.8 L1156.0 884.7 L1157.5 884.5 L1159.0 884.2 L1160.5 883.9 L1162.0 883.6 L1163.5 883.2 L1165.0 882.8 L1166.5 882.4 L1168.0 882.0 L1169.5 881.6 L1171.0 881.1 L1172.5 880.7 L1174.0 880.2 L1175.5 879.8 L1177.0 879.3 L1178.5 878.8 L1180.0 878.3 L1181.5 877.8 L1183.0 877.3 L1184.5 876.8 L1186.0 876.3 L1187.5 875.8 L1189.0 875.3 L1190.5 874.8 L1192.0 874.3 L1193.5 873.8 L1195.0 873.3 L1196.5 872.7 L1198.0 872.2 L1199.5 871.7 L1201.0 871.2 L1202.5 870.7 L1204.0 870.2 L1205.5 869.7 L1207.0 869.2 L1208.5 868.7 L1210.0 868.2 L1211.5 867.6 L1213.0 867.1 L1214.5 866.6 L1216.0 866.1 L1217.5 865.6 L1219.0 865.1 L1220.5 864.6 L1222.0 864.1 L1223.5 863.6 L1225.0 863.1 L1226.5 862.6 L1228.0 862.1 L1229.5 861.6 L1231.0 861.1 L1232.5 860.6 L1234.0 860.1 L1235.5 859.6 L1237.0 859.1 L1238.5 858.6 L1240.0 858.1 L1241.5 857.6 L1243.0 857.1 L1244.5 856.6 L1246.0 856.1 L1247.5 855.6 L1249.0 855.1 L1250.5 854.6 L1252.0 854.1 L1253.5 853.6 L1255.0 853.1 L1256.5 852.6 L1258.0 852.1 L1259.5 851.6 L1261.0 851.1 L1262.5 850.6 L1264.0 850.1 L1265.5 849.6 L1267.0 849.1 L1268.5 848.6 L1270.0 848.1 L1271.5 847.7 L1273.0 847.2 L1274.5 846.7 L1276.0 846.2 L1277.5 845.7 L1279.0 845.2 L1280.5 844.7 L1282.0 844.2 L1283.5 843.8 L1285.0 843.3 L1286.5 842.8 L1288.0 842.3 L1289.5 841.8 L1291.0 841.3 L1292.5 840.9 L1294.0 840.4 L1295.5 839.9 L1297.0 839.4 L1298.5 838.9 L1300.0 838.5 L1301.5 838.0 L1303.0 837.5 L1304.5 837.0 L1306.0 836.5 L1307.5 836.1 L1309.0 835.6 L1310.5 835.1 L1312.0 834.6 L1313.5 834.2 L1315.0 833.7 L1316.5 833.2 L1318.0 832.7 L1319.5 832.3 L1321.0 831.8 L1322.5 831.3 L1324.0 830.9 L1325.5 830.4 L1327.0 829.9 L1328.5 829.4 L1330.0 829.0 L1331.5 828.5 L1333.0 828.0 L1334.5 827.6 L1336.0 827.1 L1337.5 826.6 L1339.0 826.2 L1340.5 825.7 L1342.0 825.2 L1343.5 824.8 L1345.0 824.3 L1346.5 823.8 L1348.0 823.4 L1349.5 822.9 L1351.0 822.5 L1352.5 822.0 L1354.0 821.5 L1355.5 821.1 L1357.0 820.6 L1358.5 820.2 L1360.0 819.7 L1361.5 819.2 L1363.0 818.8 L1364.5 818.3 L1366.0 817.9 L1367.5 817.4 L1369.0 817.0 L1370.5 816.5 L1372.0 816.1 L1373.5 815.6 L1375.0 815.1 L1376.5 814.7 L1378.0 814.2 L1379.5 813.8 L1381.0 813.3 L1382.5 812.9 L1384.0 812.4 L1385.5 812.0 L1387.0 811.5 L1388.5 811.1 L1390.0 810.6 L1391.5 810.2 L1393.0 809.7 L1394.5 809.3 L1396.0 808.9 L1397.5 808.4 L1399.0 808.0 L1400.5 807.5 L1402.0 807.1 L1403.5 806.6 L1405.0 806.2 L1406.5 805.7 L1408.0 805.3 L1409.5 804.9 L1411.0 804.4 L1412.5 804.0 L1414.0 803.5 L1415.5 803.1 L1417.0 802.7 L1418.5 802.2 L1420.0 801.8 L1421.5 801.4 L1423.0 800.9 L1424.5 800.5 L1426.0 800.0 L1427.5 799.6 L1429.0 799.2 L1430.5 798.7 L1432.0 798.3 L1433.5 797.9 L1435.0 797.4 L1436.5 797.0 L1438.0 796.6 L1439.5 796.1 L1441.0 795.7 L1442.5 795.3 L1444.0 794.9 L1445.5 794.4 L1447.0 794.0 L1448.5 793.6 L1450.0 793.1 L1451.5 792.7 L1453.0 792.3 L1454.5 791.9 L1456.0 791.4 L1457.5 791.0 L1459.0 790.6 L1460.5 790.2 L1462.0 789.7 L1463.5 789.3 L1465.0 788.9 L1466.5 788.5 L1468.0 788.1 L1469.5 787.6 L1471.0 787.2 L1472.5 786.8 L1474.0 786.4 L1475.5 786.0 L1477.0 785.5 L1478.5 785.1 L1480.0 784.7 L1481.5 784.3 L1483.0 783.9 L1484.5 783.4 L1486.0 783.0 L1487.5 782.6 L1489.0 782.2 L1490.5 781.8 L1492.0 781.4 L1493.5 780.9 L1495.0 780.5 L1496.5 780.1 L1498.0 779.7 L1499.5 779.3 L1501.0 778.8 L1502.5 778.4 L1504.0 778.0 L1505.5 777.6 L1507.0 777.2 L1508.5 776.7 L1510.0 776.3 L1511.5 775.9 L1513.0 775.5 L1514.5 775.0 L1516.0 774.6 L1517.5 774.1 L1519.0 773.7 L1520.5 773.3 L1522.0 772.8 L1523.5 772.4 L1525.0 771.9 L1526.5 771.4 L1528.0 770.9 L1529.5 770.5 L1531.0 770.0 L1532.5 769.5 L1534.0 768.9 L1535.5 768.4 L1537.0 767.9 L1538.5 767.3 L1540.0 766.7 L1541.5 766.1 L1543.0 765.5 L1544.5 764.9 L1546.0 764.2 L1547.5 763.5 L1549.0 762.8 L1550.5 762.0 L1552.0 761.2 L1553.5 760.3 L1555.0 759.4 L1556.5 758.5 L1558.0 757.5 L1559.5 756.4 L1561.0 755.3 L1562.5 754.0 L1564.0 752.8 L1565.5 751.4 L1567.0 749.9 L1568.5 748.4 L1570.0 746.7 L1571.5 745.0 L1573.0 743.1 L1574.5 741.2 L1576.0 739.1 L1577.5 736.9 L1579.0 734.6 L1580.5 732.2 L1582.0 729.7 L1583.5 727.0 L1585.0 724.3 L1586.5 721.4 L1588.0 718.4 L1589.5 715.2 L1591.0 712.0 L1592.5 708.6 L1594.0 705.1 L1595.5 701.5 L1597.0 697.8 L1598.5 693.9 L1600.0 690.0 L1601.5 686.0 L1603.0 681.9 L1604.5 677.6 L1606.0 673.4 L1607.5 669.0 L1609.0 664.5 L1610.5 660.0 L1612.0 655.5 L1613.5 650.8 L1615.0 646.1 L1616.5 641.4 L1618.0 636.6 L1619.5 631.7 L1621.0 626.8 L1622.5 621.9 L1624.0 616.9 L1625.5 611.9 L1627.0 606.8 L1628.5 601.7 L1630.0 596.6 L1631.5 591.4 L1633.0 586.2 L1634.5 581.0 L1636.0 575.7 L1637.5 570.4 L1639.0 565.1 L1640.5 559.7 L1642.0 554.4 L1643.5 549.0 L1645.0 543.5 L1646.5 538.1 L1648.0 532.6 L1649.5 527.1 L1651.0 521.6 L1652.5 516.0 L1654.0 510.4 L1655.5 504.8 L1657.0 499.2 L1658.5 493.6 L1660.0 487.9 L1661.5 482.2 L1663.0 476.5 L1664.5 470.7 L1666.0 465.0 L1667.5 459.2 L1669.0 453.3 L1670.5 447.5 L1672.0 441.6 L1673.5 435.8 L1675.0 429.9 L1676.5 423.9 L1678.0 418.0 L1679.5 412.0 L1681.6 403.6 L1680.4 262.0 L1680.5 254.0 L1680.9 246.5 L1681.5 239.3 L1682.5 232.6 L1683.7 226.4 L1685.3 220.8 L1687.3 215.8 L1689.6 211.4 L1692.4 207.7 L1695.6 204.7 L1699.2 202.6 L1703.4 201.3 L1708.0 200.8 L1746.0 200.8" stroke="#ff0000"/>
<path d="M1027.0 103.0 L1027.0 463.4 L1027.0 464.4 L1028.5 469.2 L1030.0 474.0 L1031.5 478.8 L1033.0 483.7 L1034.5 488.5 L1036.0 493.3 L1037.5 498.1 L1039.0 503.0 L1040.5 507.8 L1042.0 512.6 L1043.5 517.4 L1045.0 522.2 L1046.5 527.1 L1048.0 531.9 L1049.5 536.7 L1051.0 541.5 L1052.5 546.3 L1054.0 551.1 L1055.5 556.0 L1057.0 560.8 L1058.5 565.6 L1060.0 570.4 L1061.5 575.2 L1063.0 580.0 L1064.5 584.8 L1066.0 589.7 L1067.5 594.5 L1069.0 599.3 L1070.5 604.1 L1072.0 608.9 L1073.5 613.7 L1075.0 618.5 L1076.5 623.3 L1078.0 628.1 L1079.5 632.9 L1081.0 637.7 L1082.5 642.5 L1084.0 647.3 L1085.5 652.1 L1087.0 656.9 L1088.5 661.7 L1090.0 666.5 L1091.5 671.3 L1093.0 676.1 L1094.5 680.9 L1096.0 685.6 L1097.5 690.4 L1099.0 695.2 L1100.5 699.9 L1102.0 704.7 L1103.5 709.4 L1105.0 714.2 L1106.5 718.9 L1108.0 723.6 L1109.5 728.3 L1111.0 733.0 L1112.5 737.7 L1114.0 742.4 L1115.5 747.0 L1117.0 751.6 L1118.5 756.2 L1120.0 760.8 L1121.5 765.4 L1123.0 769.9 L1124.5 774.4 L1126.0 778.8 L1127.5 783.3 L1129.0 787.6 L1130.5 791.9 L1132.0 796.2 L1133.5 800.4 L1135.0 804.5 L1136.5 808.6 L1138.0 812.6 L1139.5 816.5 L1141.0 820.3 L1142.5 824.0 L1144.0 827.6 L1145.5 831.1 L1147.0 834.5 L1148.5 837.8 L1150.0 840.9 L1151.5 843.9 L1153.0 846.7 L1154.5 849.4 L1156.0 851.9 L1157.5 854.3 L1159.0 856.5 L1160.5 858.6 L1162.0 860.5 L1163.5 862.3 L1165.0 863.9 L1166.5 865.4 L1168.0 866.7 L1169.5 867.9 L1171.0 868.9 L1172.5 869.9 L1174.0 870.7 L1175.5 871.4 L1177.0 872.0 L1178.5 872.4 L1180.0 872.8 L1181.5 873.1 L1183.0 873.4 L1184.5 873.5 L1186.0 873.6 L1187.5 873.7 L1189.0 873.6 L1190.5 873.6 L1192.0 873.5 L1193.5 873.3 L1195.0 873.1 L1196.5 872.9 L1198.0 872.6 L1199.5 872.3 L1201.0 872.0 L1202.5 871.7 L1204.0 871.4 L1205.5 871.0 L1207.0 870.6 L1208.5 870.2 L1210.0 869.8 L1211.5 869.4 L1213.0 869.0 L1214.5 868.5 L1216.0 868.1 L1217.5 867.6 L1219.0 867.2 L1220.5 866.7 L1222.0 866.3 L1223.5 865.8 L1225.0 865.3 L1226.5 864.8 L1228.0 864.4 L1229.5 863.9 L1231.0 863.4 L1232.5 862.9 L1234.0 862.4 L1235.5 861.9 L1237.0 861.4 L1238.5 861.0 L1240.0 860.5 L1241.5 860.0 L1243.0 859.5 L1244.5 859.0 L1246.0 858.5 L1247.5 858.0 L1249.0 857.5 L1250.5 857.0 L1252.0 856.5 L1253.5 856.0 L1255.0 855.5 L1256.5 855.1 L1258.0 854.6 L1259.5 854.1 L1261.0 853.6 L1262.5 853.1 L1264.0 852.6 L1265.5 852.1 L1267.0 851.6 L1268.5 851.1 L1270.0 850.6 L1271.5 850.2 L1273.0 849.7 L1274.5 849.2 L1276.0 848.7 L1277.5 848.2 L1279.0 847.7 L1280.5 847.2 L1282.0 846.7 L1283.5 846.3 L1285.0 845.8 L1286.5 845.3 L1288.0 844.8 L1289.5 844.3 L1291.0 843.8 L1292.5 843.4 L1294.0 842.9 L1295.5 842.4 L1297.0 841.9 L1298.5 841.4 L1300.0 841.0 L1301.5 840.5 L1303.0 840.0 L1304.5 839.5 L1306.0 839.0 L1307.5 838.6 L1309.0 838.1 L1310.5 837.6 L1312.0 837.1 L1313.5 836.7 L1315.0 836.2 L1316.5 835.7 L1318.0 835.2 L1319.5 834.8 L1321.0 834.3 L1322.5 833.8 L1324.0 833.4 L1325.5 832.9 L1327.0 832.4 L1328.5 831.9 L1330.0 831.5 L1331.5 831.0 L1333.0 830.5 L1334.5 830.1 L1336.0 829.6 L1337.5 829.1 L1339.0 828.7 L1340.5 828.2 L1342.0 827.7 L1343.5 827.3 L1345.0 826.8 L1346.5 826.3 L1348.0 825.9 L1349.5 825.4 L1351.0 825.0 L1352.5 824.5 L1354.0 824.0 L1355.5 823.6 L1357.0 823.1 L1358.5 822.7 L1360.0 822.2 L1361.5 821.7 L1363.0 821.3 L1364.5 820.8 L1366.0 820.4 L1367.5 819.9 L1369.0 819.5 L1370.5 819.0 L1372.0 818.6 L1373.5 818.1 L1375.0 817.6 L1376.5 817.2 L1378.0 816.7 L1379.5 816.3 L1381.0 815.8 L1382.5 815.4 L1384.0 814.9 L1385.5 814.5 L1387.0 814.0 L1388.5 813.6 L1390.0 813.1 L1391.5 812.7 L1393.0 812.2 L1394.5 811.8 L1396.0 811.3 L1397.5 810.9 L1399.0 810.5 L1400.5 810.0 L1402.0 809.6 L1403.5 809.1 L1405.0 808.7 L1406.5 808.2 L1408.0 807.8 L1409.5 807.4 L1411.0 806.9 L1412.5 806.5 L1414.0 806.0 L1415.5 805.6 L1417.0 805.2 L1418.5 804.7 L1420.0 804.3 L1421.5 803.8 L1423.0 803.4 L1424.5 803.0 L1426.0 802.5 L1427.5 802.1 L1429.0 801.6 L1430.5 801.2 L1432.0 800.8 L1433.5 800.3 L1435.0 799.9 L1436.5 799.5 L1438.0 799.0 L1439.5 798.6 L1441.0 798.2 L1442.5 797.7 L1444.0 797.3 L1445.5 796.9 L1447.0 796.4 L1448.5 796.0 L1450.0 795.6 L1451.5 795.1 L1453.0 794.7 L1454.5 794.3 L1456.0 793.8 L1457.5 793.4 L1459.0 793.0 L1460.5 792.5 L1462.0 792.1 L1463.5 791.6 L1465.0 791.2 L1466.5 790.8 L1468.0 790.3 L1469.5 789.9 L1471.0 789.4 L1472.5 789.0 L1474.0 788.6 L1475.5 788.1 L1477.0 787.7 L1478.5 787.2 L1480.0 786.8 L1481.5 786.3 L1483.0 785.8 L1484.5 785.4 L1486.0 784.9 L1487.5 784.4 L1489.0 784.0 L1490.5 783.5 L1492.0 783.0 L1493.5 782.5 L1495.0 782.0 L1496.5 781.5 L1498.0 781.0 L1499.5 780.5 L1501.0 779.9 L1502.5 779.4 L1504.0 778.9 L1505.5 778.3 L1507.0 777.7 L1508.5 777.1 L1510.0 776.5 L1511.5 775.9 L1513.0 775.3 L1514.5 774.6 L1516.0 774.0 L1517.5 773.3 L1519.0 772.6 L1520.5 771.8 L1522.0 771.1 L1523.5 770.3 L1525.0 769.4 L1526.5 768.6 L1528.0 767.7 L1529.5 766.8 L1531.0 765.8 L1532.5 764.8 L1534.0 763.7 L1535.5 762.6 L1537.0 761.5 L1538.5 760.3 L1540.0 759.0 L1541.5 757.7 L1543.0 756.3 L1544.5 754.9 L1546.0 753.4 L1547.5 751.8 L1549.0 750.2 L1550.5 748.4 L1552.0 746.7 L1553.5 744.8 L1555.0 742.9 L1556.5 740.8 L1558.0 738.7 L1559.5 736.5 L1561.0 734.3 L1562.5 731.9 L1564.0 729.5 L1565.5 727.0 L1567.0 724.4 L1568.5 721.8 L1570.0 719.0 L1571.5 716.2 L1573.0 713.3 L1574.5 710.3 L1576.0 707.2 L1577.5 704.0 L1579.0 700.8 L1580.5 697.5 L1582.0 694.1 L1583.5 690.7 L1585.0 687.1 L1586.5 683.5 L1588.0 679.9 L1589.5 676.1 L1591.0 672.4 L1592.5 668.5 L1594.0 664.6 L1595.5 660.7 L1597.0 656.7 L1598.5 652.6 L1600.0 648.5 L1601.5 644.4 L1603.0 640.2 L1604.5 636.0 L1606.0 631.7 L1607.5 627.4 L1609.0 623.1 L1610.5 618.7 L1612.0 614.4 L1613.5 609.9 L1615.0 605.5 L1616.5 601.0 L1618.0 596.5 L1619.5 591.9 L1621.0 587.4 L1622.5 582.8 L1624.0 578.2 L1625.5 573.5 L1627.0 568.9 L1628.5 564.2 L1630.0 559.5 L1631.5 554.8 L1633.0 550.1 L1634.5 545.3 L1636.0 540.6 L1637.5 535.8 L1639.0 531.0 L1640.5 526.1 L1642.0 521.3 L1643.5 516.4 L1645.0 511.6 L1646.5 506.7 L1648.0 501.8 L1649.5 496.9 L1651.0 491.9 L1652.5 487.0 L1654.0 482.0 L1655.5 477.1 L1657.0 472.1 L1658.5 467.1 L1660.0 462.0 L1661.5 457.0 L1663.0 451.9 L1664.5 446.9 L1666.0 441.8 L1667.5 436.7 L1669.0 431.6 L1670.5 426.5 L1672.0 421.4 L1673.5 416.2 L1675.0 411.1 L1676.5 405.9 L1678.0 400.7 L1679.5 395.5 L1681.6 388.2 L1680.7 262.0 L1680.8 254.1 L1681.2 246.6 L1681.8 239.5 L1682.8 232.8 L1684.0 226.7 L1685.6 221.0 L1687.5 216.0 L1689.9 211.7 L1692.6 208.0 L1695.7 205.0 L1699.4 202.9 L1703.4 201.6 L1708.0 201.1 L1746.0 201.1" stroke="#0000ff"/>
<path d="M1027.0 103.0 L1027.0 418.5 L1027.0 419.5 L1028.5 423.7 L1030.0 428.0 L1031.5 432.2 L1033.0 436.4 L1034.5 440.7 L1036.0 444.9 L1037.5 449.1 L1039.0 453.3 L1040.5 457.6 L1042.0 461.8 L1043.5 466.0 L1045.0 470.3 L1046.5 474.5 L1048.0 478.7 L1049.5 482.9 L1051.0 487.2 L1052.5 491.4 L1054.0 495.6 L1055.5 499.8 L1057.0 504.1 L1058.5 508.3 L1060.0 512.5 L1061.5 516.7 L1063.0 521.0 L1064.5 525.2 L1066.0 529.4 L1067.5 533.6 L1069.0 537.9 L1070.5 542.1 L1072.0 546.3 L1073.5 550.5 L1075.0 554.7 L1076.5 558.9 L1078.0 563.2 L1079.5 567.4 L1081.0 571.6 L1082.5 575.8 L1084.0 580.0 L1085.5 584.2 L1087.0 588.4 L1088.5 592.6 L1090.0 596.8 L1091.5 601.1 L1093.0 605.3 L1094.5 609.5 L1096.0 613.7 L1097.5 617.9 L1099.0 622.1 L1100.5 626.3 L1102.0 630.5 L1103.5 634.6 L1105.0 638.8 L1106.5 643.0 L1108.0 647.2 L1109.5 651.4 L1111.0 655.6 L1112.5 659.7 L1114.0 663.9 L1115.5 668.1 L1117.0 672.2 L1118.5 676.4 L1120.0 680.6 L1121.5 684.7 L1123.0 688.8 L1124.5 693.0 L1126.0 697.1 L1127.5 701.2 L1129.0 705.3 L1130.5 709.4 L1132.0 713.5 L1133.5 717.6 L1135.0 721.7 L1136.5 725.7 L1138.0 729.8 L1139.5 733.8 L1141.0 737.8 L1142.5 741.8 L1144.0 745.8 L1145.5 749.7 L1147.0 753.6 L1148.5 757.5 L1150.0 761.4 L1151.5 765.2 L1153.0 769.0 L1154.5 772.8 L1156.0 776.5 L1157.5 780.2 L1159.0 783.8 L1160.5 787.4 L1162.0 791.0 L1163.5 794.5 L1165.0 797.9 L1166.5 801.3 L1168.0 804.6 L1169.5 807.8 L1171.0 811.0 L1172.5 814.0 L1174.0 817.0 L1175.5 820.0 L1177.0 822.8 L1178.5 825.5 L1180.0 828.2 L1181.5 830.7 L1183.0 833.1 L1184.5 835.5 L1186.0 837.7 L1187.5 839.8 L1189.0 841.8 L1190.5 843.7 L1192.0 845.5 L1193.5 847.2 L1195.0 848.8 L1196.5 850.2 L1198.0 851.6 L1199.5 852.8 L1201.0 854.0 L1202.5 855.1 L1204.0 856.0 L1205.5 856.9 L1207.0 857.7 L1208.5 858.4 L1210.0 859.0 L1211.5 859.5 L1213.0 860.0 L1214.5 860.3 L1216.0 860.7 L1217.5 860.9 L1219.0 861.1 L1220.5 861.3 L1222.0 861.4 L1223.5 861.5 L1225.0 861.5 L1226.5 861.4 L1228.0 861.4 L1229.5 861.3 L1231.0 861.1 L1232.5 861.0 L1234.0 860.8 L1235.5 860.6 L1237.0 860.3 L1238.5 860.0 L1240.0 859.8 L1241.5 859.5 L1243.0 859.1 L1244.5 858.8 L1246.0 858.5 L1247.5 858.1 L1249.0 857.7 L1250.5 857.4 L1252.0 857.0 L1253.5 856.6 L1255.0 856.2 L1256.5 855.7 L1258.0 855.3 L1259.5 854.9 L1261.0 854.5 L1262.5 854.0 L1264.0 853.6 L1265.5 853.1 L1267.0 852.7 L1268.5 852.2 L1270.0 851.8 L1271.5 851.3 L1273.0 850.9 L1274.5 850.4 L1276.0 849.9 L1277.5 849.5 L1279.0 849.0 L1280.5 848.5 L1282.0 848.1 L1283.5 847.6 L1285.0 847.1 L1286.5 846.7 L1288.0 846.2 L1289.5 845.7 L1291.0 845.2 L1292.5 844.8 L1294.0 844.3 L1295.5 843.8 L1297.0 843.3 L1298.5 842.9 L1300.0 842.4 L1301.5 841.9 L1303.0 841.4 L1304.5 841.0 L1306.0 840.5 L1307.5 840.0 L1309.0 839.6 L1310.5 839.1 L1312.0 838.6 L1313.5 838.1 L1315.0 837.7 L1316.5 837.2 L1318.0 836.7 L1319.5 836.2 L1321.0 835.8 L1322.5 835.3 L1324.0 834.8 L1325.5 834.4 L1327.0 833.9 L1328.5 833.4 L1330.0 833.0 L1331.5 832.5 L1333.0 832.0 L1334.5 831.6 L1336.0 831.1 L1337.5 830.6 L1339.0 830.2 L1340.5 829.7 L1342.0 829.2 L1343.5 828.8 L1345.0 828.3 L1346.5 827.8 L1348.0 827.4 L1349.5 826.9 L1351.0 826.4 L1352.5 826.0 L1354.0 825.5 L1355.5 825.1 L1357.0 824.6 L1358.5 824.1 L1360.0 823.7 L1361.5 823.2 L1363.0 822.8 L1364.5 822.3 L1366.0 821.8 L1367.5 821.4 L1369.0 820.9 L1370.5 820.5 L1372.0 820.0 L1373.5 819.6 L1375.0 819.1 L1376.5 818.7 L1378.0 818.2 L1379.5 817.7 L1381.0 817.3 L1382.5 816.8 L1384.0 816.4 L1385.5 815.9 L1387.0 815.5 L1388.5 815.0 L1390.0 814.6 L1391.5 814.1 L1393.0 813.7 L1394.5 813.2 L1396.0 812.8 L1397.5 812.3 L1399.0 811.9 L1400.5 811.4 L1402.0 811.0 L1403.5 810.5 L1405.0 810.1 L1406.5 809.6 L1408.0 809.2 L1409.5 808.7 L1411.0 808.2 L1412.5 807.8 L1414.0 807.3 L1415.5 806.9 L1417.0 806.4 L1418.5 806.0 L1420.0 805.5 L1421.5 805.1 L1423.0 804.6 L1424.5 804.2 L1426.0 803.7 L1427.5 803.2 L1429.0 802.8 L1430.5 802.3 L1432.0 801.9 L1433.5 801.4 L1435.0 800.9 L1436.5 800.5 L1438.0 800.0 L1439.5 799.5 L1441.0 799.1 L1442.5 798.6 L1444.0 798.1 L1445.5 797.6 L1447.0 797.1 L1448.5 796.7 L1450.0 796.2 L1451.5 795.7 L1453.0 795.2 L1454.5 794.7 L1456.0 794.2 L1457.5 793.7 L1459.0 793.1 L1460.5 792.6 L1462.0 792.1 L1463.5 791.6 L1465.0 791.0 L1466.5 790.5 L1468.0 789.9 L1469.5 789.4 L1471.0 788.8 L1472.5 788.2 L1474.0 787.6 L1475.5 787.0 L1477.0 786.4 L1478.5 785.8 L1480.0 785.1 L1481.5 784.5 L1483.0 783.8 L1484.5 783.1 L1486.0 782.4 L1487.5 781.7 L1489.0 780.9 L1490.5 780.2 L1492.0 779.4 L1493.5 778.6 L1495.0 777.8 L1496.5 776.9 L1498.0 776.0 L1499.5 775.1 L1501.0 774.2 L1502.5 773.3 L1504.0 772.3 L1505.5 771.2 L1507.0 770.2 L1508.5 769.1 L1510.0 768.0 L1511.5 766.8 L1513.0 765.6 L1514.5 764.3 L1516.0 763.1 L1517.5 761.7 L1519.0 760.3 L1520.5 758.9 L1522.0 757.4 L1523.5 755.9 L1525.0 754.3 L1526.5 752.7 L1528.0 751.0 L1529.5 749.3 L1531.0 747.5 L1532.5 745.7 L1534.0 743.8 L1535.5 741.8 L1537.0 739.8 L1538.5 737.8 L1540.0 735.6 L1541.5 733.5 L1543.0 731.2 L1544.5 728.9 L1546.0 726.6 L1547.5 724.2 L1549.0 721.7 L1550.5 719.2 L1552.0 716.7 L1553.5 714.0 L1555.0 711.4 L1556.5 708.6 L1558.0 705.8 L1559.5 703.0 L1561.0 700.1 L1562.5 697.1 L1564.0 694.1 L1565.5 691.1 L1567.0 688.0 L1568.5 684.8 L1570.0 681.6 L1571.5 678.4 L1573.0 675.1 L1574.5 671.7 L1576.0 668.4 L1577.5 664.9 L1579.0 661.5 L1580.5 658.0 L1582.0 654.5 L1583.5 650.9 L1585.0 647.3 L1586.5 643.7 L1588.0 640.0 L1589.5 636.3 L1591.0 632.6 L1592.5 628.8 L1594.0 625.1 L1595.5 621.3 L1597.0 617.4 L1598.5 613.6 L1600.0 609.7 L1601.5 605.8 L1603.0 601.9 L1604.5 598.0 L1606.0 594.0 L1607.5 590.0 L1609.0 586.0 L1610.5 582.0 L1612.0 578.0 L1613.5 573.9 L1615.0 569.8 L1616.5 565.7 L1618.0 561.6 L1619.5 557.5 L1621.0 553.4 L1622.5 549.2 L1624.0 545.1 L1625.5 540.9 L1627.0 536.7 L1628.5 532.5 L1630.0 528.3 L1631.5 524.0 L1633.0 519.8 L1634.5 515.5 L1636.0 511.3 L1637.5 507.0 L1639.0 502.7 L1640.5 498.4 L1642.0 494.1 L1643.5 489.8 L1645.0 485.4 L1646.5 481.1 L1648.0 476.7 L1649.5 472.3 L1651.0 468.0 L1652.5 463.6 L1654.0 459.2 L1655.5 454.8 L1657.0 450.3 L1658.5 445.9 L1660.0 441.5 L1661.5 437.0 L1663.0 432.5 L1664.5 428.1 L1666.0 423.6 L1667.5 419.1 L1669.0 414.6 L1670.5 410.1 L1672.0 405.5 L1673.5 401.0 L1675.0 396.5 L1676.5 391.9 L1678.0 387.4 L1679.5 382.8 L1681.6 376.4 L1681.0 262.0 L1681.1 254.2 L1681.5 246.7 L1682.1 239.6 L1683.0 233.0 L1684.3 226.9 L1685.9 221.3 L1687.8 216.3 L1690.1 211.9 L1692.8 208.3 L1695.9 205.3 L1699.5 203.2 L1703.5 201.9 L1708.0 201.4 L1746.0 201.4" stroke="#008000"/>
<path d="M1027.0 103.0 L1027.0 385.1 L1027.0 386.1 L1028.5 389.9 L1030.0 393.6 L1031.5 397.3 L1033.0 401.1 L1034.5 404.8 L1036.0 408.5 L1037.5 412.3 L1039.0 416.0 L1040.5 419.7 L1042.0 423.5 L1043.5 427.2 L1045.0 430.9 L1046.5 434.6 L1048.0 438.4 L1049.5 442.1 L1051.0 445.8 L1052.5 449.5 L1054.0 453.3 L1055.5 457.0 L1057.0 460.7 L1058.5 464.4 L1060.0 468.1 L1061.5 471.8 L1063.0 475.6 L1064.5 479.3 L1066.0 483.0 L1067.5 486.7 L1069.0 490.4 L1070.5 494.1 L1072.0 497.8 L1073.5 501.5 L1075.0 505.2 L1076.5 508.9 L1078.0 512.6 L1079.5 516.3 L1081.0 520.0 L1082.5 523.7 L1084.0 527.4 L1085.5 531.1 L1087.0 534.8 L1088.5 538.5 L1090.0 542.2 L1091.5 545.9 L1093.0 549.5 L1094.5 553.2 L1096.0 556.9 L1097.5 560.6 L1099.0 564.3 L1100.5 568.0 L1102.0 571.6 L1103.5 575.3 L1105.0 579.0 L1106.5 582.7 L1108.0 586.3 L1109.5 590.0 L1111.0 593.7 L1112.5 597.3 L1114.0 601.0 L1115.5 604.7 L1117.0 608.3 L1118.5 612.0 L1120.0 615.6 L1121.5 619.3 L1123.0 622.9 L1124.5 626.6 L1126.0 630.2 L1127.5 633.9 L1129.0 637.5 L1130.5 641.2 L1132.0 644.8 L1133.5 648.4 L1135.0 652.0 L1136.5 655.7 L1138.0 659.3 L1139.5 662.9 L1141.0 666.5 L1142.5 670.1 L1144.0 673.7 L1145.5 677.3 L1147.0 680.9 L1148.5 684.5 L1150.0 688.0 L1151.5 691.6 L1153.0 695.2 L1154.5 698.7 L1156.0 702.3 L1157.5 705.8 L1159.0 709.3 L1160.5 712.8 L1162.0 716.3 L1163.5 719.8 L1165.0 723.3 L1166.5 726.8 L1168.0 730.2 L1169.5 733.6 L1171.0 737.0 L1172.5 740.4 L1174.0 743.8 L1175.5 747.2 L1177.0 750.5 L1178.5 753.8 L1180.0 757.1 L1181.5 760.3 L1183.0 763.6 L1184.5 766.7 L1186.0 769.9 L1187.5 773.0 L1189.0 776.1 L1190.5 779.2 L1192.0 782.2 L1193.5 785.1 L1195.0 788.1 L1196.5 790.9 L1198.0 793.7 L1199.5 796.5 L1201.0 799.2 L1202.5 801.9 L1204.0 804.4 L1205.5 807.0 L1207.0 809.4 L1208.5 811.8 L1210.0 814.1 L1211.5 816.4 L1213.0 818.6 L1214.5 820.7 L1216.0 822.7 L1217.5 824.6 L1219.0 826.5 L1220.5 828.3 L1222.0 830.0 L1223.5 831.6 L1225.0 833.1 L1226.5 834.6 L1228.0 836.0 L1229.5 837.3 L1231.0 838.5 L1232.5 839.6 L1234.0 840.7 L1235.5 841.6 L1237.0 842.5 L1238.5 843.4 L1240.0 844.1 L1241.5 844.8 L1243.0 845.5 L1244.5 846.0 L1246.0 846.6 L1247.5 847.0 L1249.0 847.4 L1250.5 847.7 L1252.0 848.0 L1253.5 848.3 L1255.0 848.4 L1256.5 848.6 L1258.0 848.7 L1259.5 848.8 L1261.0 848.8 L1262.5 848.8 L1264.0 848.8 L1265.5 848.7 L1267.0 848.6 L1268.5 848.5 L1270.0 848.3 L1271.5 848.1 L1273.0 847.9 L1274.5 847.7 L1276.0 847.5 L1277.5 847.2 L1279.0 847.0 L1280.5 846.7 L1282.0 846.4 L1283.5 846.1 L1285.0 845.8 L1286.5 845.4 L1288.0 845.1 L1289.5 844.7 L1291.0 844.4 L1292.5 844.0 L1294.0 843.6 L1295.5 843.2 L1297.0 842.8 L1298.5 842.4 L1300.0 842.0 L1301.5 841.6 L1303.0 841.2 L1304.5 840.8 L1306.0 840.3 L1307.5 839.9 L1309.0 839.5 L1310.5 839.0 L1312.0 838.6 L1313.5 838.2 L1315.0 837.7 L1316.5 837.3 L1318.0 836.8 L1319.5 836.4 L1321.0 835.9 L1322.5 835.5 L1324.0 835.0 L1325.5 834.6 L1327.0 834.1 L1328.5 833.7 L1330.0 833.2 L1331.5 832.8 L1333.0 832.3 L1334.5 831.8 L1336.0 831.4 L1337.5 830.9 L1339.0 830.5 L1340.5 830.0 L1342.0 829.5 L1343.5 829.1 L1345.0 828.6 L1346.5 828.1 L1348.0 827.7 L1349.5 827.2 L1351.0 826.7 L1352.5 826.3 L1354.0 825.8 L1355.5 825.3 L1357.0 824.9 L1358.5 824.4 L1360.0 823.9 L1361.5 823.5 L1363.0 823.0 L1364.5 822.5 L1366.0 822.1 L1367.5 821.6 L1369.0 821.1 L1370.5 820.7 L1372.0 820.2 L1373.5 819.7 L1375.0 819.3 L1376.5 818.8 L1378.0 818.3 L1379.5 817.8 L1381.0 817.4 L1382.5 816.9 L1384.0 816.4 L1385.5 815.9 L1387.0 815.5 L1388.5 815.0 L1390.0 814.5 L1391.5 814.0 L1393.0 813.5 L1394.5 813.0 L1396.0 812.6 L1397.5 812.1 L1399.0 811.6 L1400.5 811.1 L1402.0 810.6 L1403.5 810.1 L1405.0 809.6 L1406.5 809.1 L1408.0 808.6 L1409.5 808.1 L1411.0 807.6 L1412.5 807.1 L1414.0 806.5 L1415.5 806.0 L1417.0 805.5 L1418.5 805.0 L1420.0 804.4 L1421.5 803.9 L1423.0 803.3 L1424.5 802.8 L1426.0 802.2 L1427.5 801.7 L1429.0 801.1 L1430.5 800.5 L1432.0 799.9 L1433.5 799.3 L1435.0 798.7 L1436.5 798.1 L1438.0 797.5 L1439.5 796.9 L1441.0 796.3 L1442.5 795.6 L1444.0 795.0 L1445.5 794.3 L1447.0 793.6 L1448.5 792.9 L1450.0 792.2 L1451.5 791.5 L1453.0 790.8 L1454.5 790.0 L1456.0 789.3 L1457.5 788.5 L1459.0 787.7 L1460.5 786.9 L1462.0 786.1 L1463.5 785.2 L1465.0 784.3 L1466.5 783.4 L1468.0 782.5 L1469.5 781.6 L1471.0 780.6 L1472.5 779.7 L1474.0 778.6 L1475.5 777.6 L1477.0 776.6 L1478.5 775.5 L1480.0 774.4 L1481.5 773.2 L1483.0 772.0 L1484.5 770.8 L1486.0 769.6 L1487.5 768.3 L1489.0 767.0 L1490.5 765.7 L1492.0 764.3 L1493.5 762.9 L1495.0 761.5 L1496.5 760.0 L1498.0 758.5 L1499.5 756.9 L1501.0 755.3 L1502.5 753.7 L1504.0 752.0 L1505.5 750.3 L1507.0 748.6 L1508.5 746.8 L1510.0 745.0 L1511.5 743.1 L1513.0 741.2 L1514.5 739.2 L1516.0 737.3 L1517.5 735.2 L1519.0 733.2 L1520.5 731.1 L1522.0 728.9 L1523.5 726.8 L1525.0 724.6 L1526.5 722.3 L1528.0 720.0 L1529.5 717.7 L1531.0 715.3 L1532.5 712.9 L1534.0 710.5 L1535.5 708.0 L1537.0 705.4 L1538.5 702.9 L1540.0 700.3 L1541.5 697.6 L1543.0 695.0 L1544.5 692.2 L1546.0 689.5 L1547.5 686.7 L1549.0 683.9 L1550.5 681.1 L1552.0 678.2 L1553.5 675.3 L1555.0 672.3 L1556.5 669.4 L1558.0 666.4 L1559.5 663.3 L1561.0 660.3 L1562.5 657.2 L1564.0 654.1 L1565.5 651.0 L1567.0 647.8 L1568.5 644.6 L1570.0 641.4 L1571.5 638.2 L1573.0 635.0 L1574.5 631.7 L1576.0 628.4 L1577.5 625.1 L1579.0 621.8 L1580.5 618.4 L1582.0 615.1 L1583.5 611.7 L1585.0 608.3 L1586.5 604.9 L1588.0 601.4 L1589.5 598.0 L1591.0 594.5 L1592.5 591.1 L1594.0 587.6 L1595.5 584.1 L1597.0 580.5 L1598.5 577.0 L1600.0 573.4 L1601.5 569.9 L1603.0 566.3 L1604.5 562.7 L1606.0 559.1 L1607.5 555.5 L1609.0 551.9 L1610.5 548.2 L1612.0 544.6 L1613.5 540.9 L1615.0 537.3 L1616.5 533.6 L1618.0 529.9 L1619.5 526.2 L1621.0 522.5 L1622.5 518.7 L1624.0 515.0 L1625.5 511.3 L1627.0 507.5 L1628.5 503.8 L1630.0 500.0 L1631.5 496.2 L1633.0 492.4 L1634.5 488.6 L1636.0 484.8 L1637.5 481.0 L1639.0 477.2 L1640.5 473.3 L1642.0 469.5 L1643.5 465.6 L1645.0 461.8 L1646.5 457.9 L1648.0 454.0 L1649.5 450.1 L1651.0 446.2 L1652.5 442.3 L1654.0 438.4 L1655.5 434.5 L1657.0 430.6 L1658.5 426.6 L1660.0 422.7 L1661.5 418.7 L1663.0 414.8 L1664.5 410.8 L1666.0 406.8 L1667.5 402.8 L1669.0 398.8 L1670.5 394.8 L1672.0 390.8 L1673.5 386.8 L1675.0 382.7 L1676.5 378.7 L1678.0 374.7 L1679.5 370.6 L1681.6 364.9 L1681.3 262.0 L1681.4 254.2 L1681.8 246.8 L1682.4 239.8 L1683.3 233.2 L1684.6 227.1 L1686.1 221.6 L1688.0 216.6 L1690.3 212.2 L1693.0 208.6 L1696.1 205.6 L1699.6 203.5 L1703.6 202.2 L1708.0 201.7 L1746.0 201.7" stroke="#ff8000"/>
<path d="M1027.0 106.0 L1027.0 339.4 L1027.0 340.4 L1028.5 343.8 L1030.0 347.1 L1031.5 350.5 L1033.0 353.9 L1034.5 357.2 L1036.0 360.5 L1037.5 363.8 L1039.0 367.1 L1040.5 370.4 L1042.0 373.7 L1043.5 376.9 L1045.0 380.2 L1046.5 383.4 L1048.0 386.6 L1049.5 389.8 L1051.0 393.0 L1052.5 396.1 L1054.0 399.3 L1055.5 402.4 L1057.0 405.6 L1058.5 408.7 L1060.0 411.8 L1061.5 414.9 L1063.0 418.0 L1064.5 421.1 L1066.0 424.1 L1067.5 427.2 L1069.0 430.2 L1070.5 433.2 L1072.0 436.3 L1073.5 439.3 L1075.0 442.3 L1076.5 445.3 L1078.0 448.2 L1079.5 451.2 L1081.0 454.2 L1082.5 457.1 L1084.0 460.1 L1085.5 463.0 L1087.0 465.9 L1088.5 468.8 L1090.0 471.7 L1091.5 474.6 L1093.0 477.5 L1094.5 480.4 L1096.0 483.3 L1097.5 486.1 L1099.0 489.0 L1100.5 491.9 L1102.0 494.7 L1103.5 497.5 L1105.0 500.4 L1106.5 503.2 L1108.0 506.0 L1109.5 508.8 L1111.0 511.7 L1112.5 514.5 L1114.0 517.3 L1115.5 520.0 L1117.0 522.8 L1118.5 525.6 L1120.0 528.4 L1121.5 531.2 L1123.0 533.9 L1124.5 536.7 L1126.0 539.4 L1127.5 542.2 L1129.0 544.9 L1130.5 547.7 L1132.0 550.4 L1133.5 553.2 L1135.0 555.9 L1136.5 558.6 L1138.0 561.4 L1139.5 564.1 L1141.0 566.8 L1142.5 569.5 L1144.0 572.2 L1145.5 575.0 L1147.0 577.7 L1148.5 580.4 L1150.0 583.1 L1151.5 585.8 L1153.0 588.5 L1154.5 591.2 L1156.0 593.9 L1157.5 596.6 L1159.0 599.3 L1160.5 602.0 L1162.0 604.6 L1163.5 607.3 L1165.0 610.0 L1166.5 612.7 L1168.0 615.4 L1169.5 618.1 L1171.0 620.7 L1172.5 623.4 L1174.0 626.1 L1175.5 628.8 L1177.0 631.4 L1178.5 634.1 L1180.0 636.8 L1181.5 639.4 L1183.0 642.1 L1184.5 644.8 L1186.0 647.4 L1187.5 650.1 L1189.0 652.8 L1190.5 655.4 L1192.0 658.1 L1193.5 660.7 L1195.0 663.4 L1196.5 666.0 L1198.0 668.6 L1199.5 671.3 L1201.0 673.9 L1202.5 676.6 L1204.0 679.2 L1205.5 681.8 L1207.0 684.4 L1208.5 687.0 L1210.0 689.7 L1211.5 692.3 L1213.0 694.9 L1214.5 697.4 L1216.0 700.0 L1217.5 702.6 L1219.0 705.2 L1220.5 707.7 L1222.0 710.3 L1223.5 712.8 L1225.0 715.4 L1226.5 717.9 L1228.0 720.4 L1229.5 722.9 L1231.0 725.4 L1232.5 727.9 L1234.0 730.3 L1235.5 732.8 L1237.0 735.2 L1238.5 737.6 L1240.0 740.0 L1241.5 742.4 L1243.0 744.8 L1244.5 747.1 L1246.0 749.4 L1247.5 751.7 L1249.0 754.0 L1250.5 756.2 L1252.0 758.5 L1253.5 760.7 L1255.0 762.8 L1256.5 765.0 L1258.0 767.1 L1259.5 769.2 L1261.0 771.2 L1262.5 773.3 L1264.0 775.2 L1265.5 777.2 L1267.0 779.1 L1268.5 781.0 L1270.0 782.8 L1271.5 784.6 L1273.0 786.4 L1274.5 788.1 L1276.0 789.8 L1277.5 791.5 L1279.0 793.1 L1280.5 794.6 L1282.0 796.1 L1283.5 797.6 L1285.0 799.0 L1286.5 800.4 L1288.0 801.7 L1289.5 803.0 L1291.0 804.2 L1292.5 805.4 L1294.0 806.5 L1295.5 807.6 L1297.0 808.7 L1298.5 809.7 L1300.0 810.6 L1301.5 811.5 L1303.0 812.4 L1304.5 813.2 L1306.0 813.9 L1307.5 814.6 L1309.0 815.2 L1310.5 815.8 L1312.0 816.4 L1313.5 816.9 L1315.0 817.4 L1316.5 817.8 L1318.0 818.1 L1319.5 818.5 L1321.0 818.8 L1322.5 819.0 L1324.0 819.3 L1325.5 819.4 L1327.0 819.6 L1328.5 819.7 L1330.0 819.8 L1331.5 819.8 L1333.0 819.9 L1334.5 819.9 L1336.0 819.8 L1337.5 819.8 L1339.0 819.7 L1340.5 819.5 L1342.0 819.4 L1343.5 819.2 L1345.0 819.0 L1346.5 818.8 L1348.0 818.6 L1349.5 818.3 L1351.0 818.0 L1352.5 817.7 L1354.0 817.4 L1355.5 817.1 L1357.0 816.7 L1358.5 816.3 L1360.0 815.9 L1361.5 815.5 L1363.0 815.1 L1364.5 814.6 L1366.0 814.1 L1367.5 813.6 L1369.0 813.1 L1370.5 812.6 L1372.0 812.0 L1373.5 811.5 L1375.0 810.9 L1376.5 810.3 L1378.0 809.7 L1379.5 809.1 L1381.0 808.4 L1382.5 807.7 L1384.0 807.0 L1385.5 806.3 L1387.0 805.6 L1388.5 804.9 L1390.0 804.1 L1391.5 803.3 L1393.0 802.5 L1394.5 801.7 L1396.0 800.8 L1397.5 800.0 L1399.0 799.1 L1400.5 798.2 L1402.0 797.2 L1403.5 796.3 L1405.0 795.3 L1406.5 794.3 L1408.0 793.3 L1409.5 792.3 L1411.0 791.2 L1412.5 790.1 L1414.0 789.0 L1415.5 787.9 L1417.0 786.8 L1418.5 785.6 L1420.0 784.4 L1421.5 783.2 L1423.0 782.0 L1424.5 780.7 L1426.0 779.4 L1427.5 778.1 L1429.0 776.8 L1430.5 775.5 L1432.0 774.1 L1433.5 772.7 L1435.0 771.3 L1436.5 769.8 L1438.0 768.4 L1439.5 766.9 L1441.0 765.3 L1442.5 763.8 L1444.0 762.2 L1445.5 760.7 L1447.0 759.0 L1448.5 757.4 L1450.0 755.8 L1451.5 754.1 L1453.0 752.4 L1454.5 750.6 L1456.0 748.9 L1457.5 747.1 L1459.0 745.3 L1460.5 743.5 L1462.0 741.7 L1463.5 739.8 L1465.0 737.9 L1466.5 736.0 L1468.0 734.1 L1469.5 732.2 L1471.0 730.2 L1472.5 728.2 L1474.0 726.2 L1475.5 724.2 L1477.0 722.1 L1478.5 720.1 L1480.0 718.0 L1481.5 715.9 L1483.0 713.8 L1484.5 711.6 L1486.0 709.5 L1487.5 707.3 L1489.0 705.1 L1490.5 702.9 L1492.0 700.7 L1493.5 698.5 L1495.0 696.2 L1496.5 694.0 L1498.0 691.7 L1499.5 689.4 L1501.0 687.1 L1502.5 684.8 L1504.0 682.5 L1505.5 680.1 L1507.0 677.8 L1508.5 675.4 L1510.0 673.0 L1511.5 670.6 L1513.0 668.2 L1514.5 665.8 L1516.0 663.4 L1517.5 660.9 L1519.0 658.5 L1520.5 656.0 L1522.0 653.6 L1523.5 651.1 L1525.0 648.6 L1526.5 646.1 L1528.0 643.6 L1529.5 641.1 L1531.0 638.6 L1532.5 636.1 L1534.0 633.5 L1535.5 631.0 L1537.0 628.4 L1538.5 625.9 L1540.0 623.3 L1541.5 620.7 L1543.0 618.1 L1544.5 615.6 L1546.0 613.0 L1547.5 610.4 L1549.0 607.7 L1550.5 605.1 L1552.0 602.5 L1553.5 599.9 L1555.0 597.2 L1556.5 594.6 L1558.0 592.0 L1559.5 589.3 L1561.0 586.6 L1562.5 584.0 L1564.0 581.3 L1565.5 578.6 L1567.0 575.9 L1568.5 573.3 L1570.0 570.6 L1571.5 567.9 L1573.0 565.2 L1574.5 562.4 L1576.0 559.7 L1577.5 557.0 L1579.0 554.3 L1580.5 551.5 L1582.0 548.8 L1583.5 546.0 L1585.0 543.3 L1586.5 540.5 L1588.0 537.8 L1589.5 535.0 L1591.0 532.2 L1592.5 529.4 L1594.0 526.6 L1595.5 523.9 L1597.0 521.1 L1598.5 518.2 L1600.0 515.4 L1601.5 512.6 L1603.0 509.8 L1604.5 507.0 L1606.0 504.1 L1607.5 501.3 L1609.0 498.4 L1610.5 495.6 L1612.0 492.7 L1613.5 489.8 L1615.0 486.9 L1616.5 484.1 L1618.0 481.2 L1619.5 478.3 L1621.0 475.4 L1622.5 472.4 L1624.0 469.5 L1625.5 466.6 L1627.0 463.6 L1628.5 460.7 L1630.0 457.7 L1631.5 454.8 L1633.0 451.8 L1634.5 448.8 L1636.0 445.9 L1637.5 442.9 L1639.0 439.9 L1640.5 436.8 L1642.0 433.8 L1643.5 430.8 L1645.0 427.8 L1646.5 424.7 L1648.0 421.7 L1649.5 418.6 L1651.0 415.5 L1652.5 412.4 L1654.0 409.3 L1655.5 406.2 L1657.0 403.1 L1658.5 400.0 L1660.0 396.9 L1661.5 393.7 L1663.0 390.6 L1664.5 387.4 L1666.0 384.2 L1667.5 381.0 L1669.0 377.8 L1670.5 374.6 L1672.0 371.4 L1673.5 368.2 L1675.0 364.9 L1676.5 361.7 L1678.0 358.4 L1679.5 355.1 L1681.6 350.5 L1681.6 262.0 L1681.7 254.3 L1682.1 246.9 L1682.7 240.0 L1683.6 233.4 L1684.8 227.3 L1686.4 221.8 L1688.3 216.8 L1690.5 212.5 L1693.2 208.9 L1696.2 205.9 L1699.7 203.8 L1703.6 202.5 L1708.0 202.0 L1746.0 202.0" stroke="#000000"/>
</g>
<g clip-path="url(#cc)">
<path d="M1740.0 170.0 L1740.0 563.6 L1740.0 564.6 L1741.5 569.9 L1743.0 575.2 L1744.5 580.4 L1746.0 585.7 L1747.5 591.0 L1749.0 596.3 L1750.5 601.6 L1752.0 606.8 L1753.5 612.1 L1755.0 617.4 L1756.5 622.6 L1758.0 627.9 L1759.5 633.1 L1761.0 638.4 L1762.5 643.6 L1764.0 648.9 L1765.5 654.1 L1767.0 659.4 L1768.5 664.6 L1770.0 669.8 L1771.5 675.1 L1773.0 680.3 L1774.5 685.5 L1776.0 690.7 L1777.5 695.9 L1779.0 701.1 L1780.5 706.3 L1782.0 711.5 L1783.5 716.7 L1785.0 721.9 L1786.5 727.0 L1788.0 732.2 L1789.5 737.4 L1791.0 742.5 L1792.5 747.6 L1794.0 752.8 L1795.5 757.9 L1797.0 763.0 L1798.5 768.1 L1800.0 773.1 L1801.5 778.2 L1803.0 783.2 L1804.5 788.2 L1806.0 793.2 L1807.5 798.1 L1809.0 803.0 L1810.5 807.9 L1812.0 812.7 L1813.5 817.5 L1815.0 822.2 L1816.5 826.9 L1818.0 831.5 L1819.5 836.0 L1821.0 840.5 L1822.5 844.8 L1824.0 849.1 L1825.5 853.3 L1827.0 857.3 L1828.5 861.2 L1830.0 865.0 L1831.5 868.6 L1833.0 872.1 L1834.5 875.4 L1836.0 878.5 L1837.5 881.5 L1839.0 884.3 L1840.5 886.9 L1842.0 889.3 L1843.5 891.5 L1845.0 893.5 L1846.5 895.3 L1848.0 897.0 L1849.5 898.4 L1851.0 899.7 L1852.5 900.9 L1854.0 901.8 L1855.5 902.7 L1857.0 903.4 L1858.5 903.9 L1860.0 904.4 L1861.5 904.7 L1863.0 905.0 L1864.5 905.1 L1866.0 905.2 L1867.5 905.2 L1869.0 905.2 L1870.5 905.1 L1872.0 904.9 L1873.5 904.7 L1875.0 904.5 L1876.5 904.2 L1878.0 903.9 L1879.5 903.6 L1881.0 903.2 L1882.5 902.8 L1884.0 902.4 L1885.5 902.0 L1887.0 901.6 L1888.5 901.2 L1890.0 900.7 L1891.5 900.3 L1893.0 899.8 L1894.5 899.3 L1896.0 898.8 L1897.5 898.4 L1899.0 897.9 L1900.5 897.4 L1902.0 896.9 L1903.5 896.4 L1905.0 895.9 L1906.5 895.4 L1908.0 894.9 L1909.5 894.4 L1911.0 893.9 L1912.5 893.4 L1914.0 892.8 L1915.5 892.3 L1917.0 891.8 L1918.5 891.3 L1920.0 890.8 L1921.5 890.3 L1923.0 889.8 L1924.5 889.3 L1926.0 888.8 L1927.5 888.3 L1929.0 887.7 L1930.5 887.2 L1932.0 886.7 L1933.5 886.2 L1935.0 885.7 L1936.5 885.2 L1938.0 884.7 L1939.5 884.2 L1941.0 883.7 L1942.5 883.2 L1944.0 882.7 L1945.5 882.2 L1947.0 881.7 L1948.5 881.2 L1950.0 880.7 L1951.5 880.2 L1953.0 879.7 L1954.5 879.2 L1956.0 878.7 L1957.5 878.2 L1959.0 877.7 L1960.5 877.2 L1962.0 876.7 L1963.5 876.2 L1965.0 875.7 L1966.5 875.2 L1968.0 874.7 L1969.5 874.2 L1971.0 873.7 L1972.5 873.2 L1974.0 872.7 L1975.5 872.2 L1977.0 871.7 L1978.5 871.2 L1980.0 870.7 L1981.5 870.2 L1983.0 869.8 L1984.5 869.3 L1986.0 868.8 L1987.5 868.3 L1989.0 867.8 L1990.5 867.3 L1992.0 866.8 L1993.5 866.4 L1995.0 865.9 L1996.5 865.4 L1998.0 864.9 L1999.5 864.4 L2001.0 863.9 L2002.5 863.5 L2004.0 863.0 L2005.5 862.5 L2007.0 862.0 L2008.5 861.5 L2010.0 861.1 L2011.5 860.6 L2013.0 860.1 L2014.5 859.6 L2016.0 859.2 L2017.5 858.7 L2019.0 858.2 L2020.5 857.7 L2022.0 857.3 L2023.5 856.8 L2025.0 856.3 L2026.5 855.9 L2028.0 855.4 L2029.5 854.9 L2031.0 854.4 L2032.5 854.0 L2034.0 853.5 L2035.5 853.0 L2037.0 852.6 L2038.5 852.1 L2040.0 851.6 L2041.5 851.2 L2043.0 850.7 L2044.5 850.3 L2046.0 849.8 L2047.5 849.3 L2049.0 848.9 L2050.5 848.4 L2052.0 847.9 L2053.5 847.5 L2055.0 847.0 L2056.5 846.6 L2058.0 846.1 L2059.5 845.7 L2061.0 845.2 L2062.5 844.7 L2064.0 844.3 L2065.5 843.8 L2067.0 843.4 L2068.5 842.9 L2070.0 842.5 L2071.5 842.0 L2073.0 841.6 L2074.5 841.1 L2076.0 840.7 L2077.5 840.2 L2079.0 839.8 L2080.5 839.3 L2082.0 838.9 L2083.5 838.4 L2085.0 838.0 L2086.5 837.5 L2088.0 837.1 L2089.5 836.7 L2091.0 836.2 L2092.5 835.8 L2094.0 835.3 L2095.5 834.9 L2097.0 834.4 L2098.5 834.0 L2100.0 833.6 L2101.5 833.1 L2103.0 832.7 L2104.5 832.2 L2106.0 831.8 L2107.5 831.4 L2109.0 830.9 L2110.5 830.5 L2112.0 830.1 L2113.5 829.6 L2115.0 829.2 L2116.5 828.8 L2118.0 828.3 L2119.5 827.9 L2121.0 827.5 L2122.5 827.0 L2124.0 826.6 L2125.5 826.2 L2127.0 825.8 L2128.5 825.3 L2130.0 824.9 L2131.5 824.5 L2133.0 824.0 L2134.5 823.6 L2136.0 823.2 L2137.5 822.8 L2139.0 822.3 L2140.5 821.9 L2142.0 821.5 L2143.5 821.1 L2145.0 820.7 L2146.5 820.2 L2148.0 819.8 L2149.5 819.4 L2151.0 819.0 L2152.5 818.6 L2154.0 818.1 L2155.5 817.7 L2157.0 817.3 L2158.5 816.9 L2160.0 816.5 L2161.5 816.1 L2163.0 815.7 L2164.5 815.2 L2166.0 814.8 L2167.5 814.4 L2169.0 814.0 L2170.5 813.6 L2172.0 813.2 L2173.5 812.8 L2175.0 812.4 L2176.5 812.0 L2178.0 811.6 L2179.5 811.1 L2181.0 810.7 L2182.5 810.3 L2184.0 809.9 L2185.5 809.5 L2187.0 809.1 L2188.5 808.7 L2190.0 808.3 L2191.5 807.9 L2193.0 807.5 L2194.5 807.1 L2196.0 806.7 L2197.5 806.3 L2199.0 805.9 L2200.5 805.5 L2202.0 805.1 L2203.5 804.7 L2205.0 804.3 L2206.5 803.9 L2208.0 803.5 L2209.5 803.1 L2211.0 802.7 L2212.5 802.3 L2214.0 801.9 L2215.5 801.5 L2217.0 801.1 L2218.5 800.7 L2220.0 800.3 L2221.5 799.9 L2223.0 799.5 L2224.5 799.1 L2226.0 798.7 L2227.5 798.3 L2229.0 797.9 L2230.5 797.5 L2232.0 797.1 L2233.5 796.7 L2235.0 796.3 L2236.5 795.8 L2238.0 795.4 L2239.5 795.0 L2241.0 794.6 L2242.5 794.1 L2244.0 793.7 L2245.5 793.3 L2247.0 792.8 L2248.5 792.3 L2250.0 791.9 L2251.5 791.4 L2253.0 790.9 L2254.5 790.4 L2256.0 789.9 L2257.5 789.3 L2259.0 788.8 L2260.5 788.2 L2262.0 787.6 L2263.5 787.0 L2265.0 786.3 L2266.5 785.6 L2268.0 784.9 L2269.5 784.2 L2271.0 783.4 L2272.5 782.5 L2274.0 781.7 L2275.5 780.7 L2277.0 779.7 L2278.5 778.7 L2280.0 777.5 L2281.5 776.3 L2283.0 775.0 L2284.5 773.6 L2286.0 772.2 L2287.5 770.6 L2289.0 768.9 L2290.5 767.1 L2292.0 765.2 L2293.5 763.2 L2295.0 761.1 L2296.5 758.8 L2298.0 756.4 L2299.5 753.9 L2301.0 751.2 L2302.5 748.5 L2304.0 745.5 L2305.5 742.5 L2307.0 739.3 L2308.5 735.9 L2310.0 732.5 L2311.5 728.9 L2313.0 725.2 L2314.5 721.4 L2316.0 717.5 L2317.5 713.5 L2319.0 709.3 L2320.5 705.1 L2322.0 700.8 L2323.5 696.5 L2325.0 692.0 L2326.5 687.5 L2328.0 682.9 L2329.5 678.3 L2331.0 673.6 L2332.5 668.8 L2334.0 664.1 L2335.5 659.2 L2337.0 654.4 L2338.5 649.4 L2340.0 644.5 L2341.5 639.5 L2343.0 634.6 L2344.5 629.5 L2346.0 624.5 L2347.5 619.4 L2349.0 614.4 L2350.5 609.3 L2352.0 604.2 L2353.5 599.0 L2355.0 593.9 L2356.5 588.7 L2358.0 583.6 L2359.5 578.4 L2361.0 573.2 L2362.5 568.0 L2364.0 562.8 L2365.5 557.6 L2367.0 552.4 L2368.5 547.2 L2370.0 541.9 L2371.5 536.7 L2373.0 531.4 L2374.5 526.2 L2376.0 520.9 L2377.5 515.7 L2379.0 510.4 L2380.5 505.1 L2382.0 499.8 L2383.5 494.6 L2385.0 489.3 L2386.5 484.0 L2388.0 478.7 L2389.5 473.4 L2391.0 468.1 L2392.5 462.8 L2394.7 455.0 L2393.5 317.5 L2393.9 313.5 L2394.2 309.4 L2394.5 305.3 L2394.8 301.1 L2395.1 297.1 L2395.5 293.3 L2396.0 289.7 L2396.6 286.5 L2397.3 283.6 L2398.2 281.0 L2399.1 278.6 L2400.2 276.5 L2401.2 274.5 L2402.2 272.7 L2403.2 271.1 L2404.2 269.7 L2405.1 268.5 L2406.0 267.5 L2406.8 266.8 L2407.6 266.2 L2408.5 265.7 L2409.4 265.3 L2410.3 265.0 L2411.2 264.6 L2412.2 264.2 L2413.2 263.9 L2414.2 263.7 L2415.3 263.5 L2416.4 263.4 L2417.4 263.4 L2418.6 263.4 L2419.7 263.5 L2423.3 263.6 L2424.5 263.8 L2425.8 264.0 L2427.1 264.3 L2428.3 264.7 L2429.6 265.2 L2430.8 265.9 L2431.9 266.8 L2433.0 267.9 L2434.0 269.1 L2435.0 270.4 L2436.0 271.9 L2437.0 273.5 L2437.9 275.3 L2438.7 277.3 L2439.5 279.5 L2440.2 281.9 L2440.9 284.6 L2441.5 287.5 L2442.1 290.5 L2442.6 293.6 L2443.1 296.9 L2443.5 300.1 L2444.0 303.4 L2444.4 306.6 L2444.8 309.8 L2445.2 313.0 L2445.5 316.3 L2445.8 319.7 L2446.2 323.4 L2446.5 327.3 L2446.8 331.5 L2447.1 336.1 L2447.4 341.1 L2447.8 346.3 L2448.1 351.7 L2448.4 357.3 L2448.7 362.8 L2449.0 368.3 L2449.3 373.7 L2451.5 478.5 L2453.5 484.5 L2454.0 203.0" stroke="#ff0000"/>
<path d="M1740.0 170.0 L1740.0 506.6 L1740.0 507.6 L1741.5 512.3 L1743.0 517.0 L1744.5 521.8 L1746.0 526.5 L1747.5 531.2 L1749.0 535.9 L1750.5 540.6 L1752.0 545.2 L1753.5 549.9 L1755.0 554.6 L1756.5 559.3 L1758.0 563.9 L1759.5 568.6 L1761.0 573.2 L1762.5 577.9 L1764.0 582.5 L1765.5 587.1 L1767.0 591.7 L1768.5 596.4 L1770.0 601.0 L1771.5 605.6 L1773.0 610.2 L1774.5 614.8 L1776.0 619.4 L1777.5 623.9 L1779.0 628.5 L1780.5 633.1 L1782.0 637.6 L1783.5 642.2 L1785.0 646.7 L1786.5 651.3 L1788.0 655.8 L1789.5 660.3 L1791.0 664.9 L1792.5 669.4 L1794.0 673.9 L1795.5 678.4 L1797.0 682.9 L1798.5 687.4 L1800.0 691.8 L1801.5 696.3 L1803.0 700.8 L1804.5 705.2 L1806.0 709.7 L1807.5 714.1 L1809.0 718.6 L1810.5 723.0 L1812.0 727.4 L1813.5 731.8 L1815.0 736.2 L1816.5 740.6 L1818.0 744.9 L1819.5 749.3 L1821.0 753.6 L1822.5 758.0 L1824.0 762.3 L1825.5 766.6 L1827.0 770.8 L1828.5 775.1 L1830.0 779.3 L1831.5 783.6 L1833.0 787.8 L1834.5 791.9 L1836.0 796.1 L1837.5 800.2 L1839.0 804.3 L1840.5 808.3 L1842.0 812.3 L1843.5 816.3 L1845.0 820.2 L1846.5 824.0 L1848.0 827.8 L1849.5 831.6 L1851.0 835.3 L1852.5 838.9 L1854.0 842.4 L1855.5 845.8 L1857.0 849.2 L1858.5 852.5 L1860.0 855.6 L1861.5 858.7 L1863.0 861.6 L1864.5 864.4 L1866.0 867.1 L1867.5 869.7 L1869.0 872.2 L1870.5 874.5 L1872.0 876.7 L1873.5 878.7 L1875.0 880.6 L1876.5 882.4 L1878.0 884.0 L1879.5 885.5 L1881.0 886.9 L1882.5 888.1 L1884.0 889.2 L1885.5 890.2 L1887.0 891.0 L1888.5 891.8 L1890.0 892.4 L1891.5 893.0 L1893.0 893.4 L1894.5 893.8 L1896.0 894.0 L1897.5 894.2 L1899.0 894.4 L1900.5 894.4 L1902.0 894.5 L1903.5 894.4 L1905.0 894.3 L1906.5 894.2 L1908.0 894.0 L1909.5 893.8 L1911.0 893.6 L1912.5 893.3 L1914.0 893.0 L1915.5 892.7 L1917.0 892.4 L1918.5 892.0 L1920.0 891.7 L1921.5 891.3 L1923.0 890.9 L1924.5 890.5 L1926.0 890.0 L1927.5 889.6 L1929.0 889.2 L1930.5 888.7 L1932.0 888.3 L1933.5 887.8 L1935.0 887.3 L1936.5 886.9 L1938.0 886.4 L1939.5 885.9 L1941.0 885.5 L1942.5 885.0 L1944.0 884.5 L1945.5 884.0 L1947.0 883.5 L1948.5 883.0 L1950.0 882.5 L1951.5 882.1 L1953.0 881.6 L1954.5 881.1 L1956.0 880.6 L1957.5 880.1 L1959.0 879.6 L1960.5 879.1 L1962.0 878.6 L1963.5 878.1 L1965.0 877.6 L1966.5 877.1 L1968.0 876.7 L1969.5 876.2 L1971.0 875.7 L1972.5 875.2 L1974.0 874.7 L1975.5 874.2 L1977.0 873.7 L1978.5 873.2 L1980.0 872.7 L1981.5 872.2 L1983.0 871.8 L1984.5 871.3 L1986.0 870.8 L1987.5 870.3 L1989.0 869.8 L1990.5 869.3 L1992.0 868.8 L1993.5 868.4 L1995.0 867.9 L1996.5 867.4 L1998.0 866.9 L1999.5 866.4 L2001.0 865.9 L2002.5 865.5 L2004.0 865.0 L2005.5 864.5 L2007.0 864.0 L2008.5 863.5 L2010.0 863.1 L2011.5 862.6 L2013.0 862.1 L2014.5 861.6 L2016.0 861.2 L2017.5 860.7 L2019.0 860.2 L2020.5 859.7 L2022.0 859.3 L2023.5 858.8 L2025.0 858.3 L2026.5 857.9 L2028.0 857.4 L2029.5 856.9 L2031.0 856.4 L2032.5 856.0 L2034.0 855.5 L2035.5 855.0 L2037.0 854.6 L2038.5 854.1 L2040.0 853.6 L2041.5 853.2 L2043.0 852.7 L2044.5 852.3 L2046.0 851.8 L2047.5 851.3 L2049.0 850.9 L2050.5 850.4 L2052.0 849.9 L2053.5 849.5 L2055.0 849.0 L2056.5 848.6 L2058.0 848.1 L2059.5 847.7 L2061.0 847.2 L2062.5 846.7 L2064.0 846.3 L2065.5 845.8 L2067.0 845.4 L2068.5 844.9 L2070.0 844.5 L2071.5 844.0 L2073.0 843.6 L2074.5 843.1 L2076.0 842.7 L2077.5 842.2 L2079.0 841.8 L2080.5 841.3 L2082.0 840.9 L2083.5 840.4 L2085.0 840.0 L2086.5 839.5 L2088.0 839.1 L2089.5 838.7 L2091.0 838.2 L2092.5 837.8 L2094.0 837.3 L2095.5 836.9 L2097.0 836.4 L2098.5 836.0 L2100.0 835.6 L2101.5 835.1 L2103.0 834.7 L2104.5 834.2 L2106.0 833.8 L2107.5 833.4 L2109.0 832.9 L2110.5 832.5 L2112.0 832.1 L2113.5 831.6 L2115.0 831.2 L2116.5 830.8 L2118.0 830.3 L2119.5 829.9 L2121.0 829.5 L2122.5 829.0 L2124.0 828.6 L2125.5 828.2 L2127.0 827.8 L2128.5 827.3 L2130.0 826.9 L2131.5 826.5 L2133.0 826.0 L2134.5 825.6 L2136.0 825.2 L2137.5 824.8 L2139.0 824.3 L2140.5 823.9 L2142.0 823.5 L2143.5 823.1 L2145.0 822.7 L2146.5 822.2 L2148.0 821.8 L2149.5 821.4 L2151.0 821.0 L2152.5 820.6 L2154.0 820.1 L2155.5 819.7 L2157.0 819.3 L2158.5 818.9 L2160.0 818.5 L2161.5 818.1 L2163.0 817.6 L2164.5 817.2 L2166.0 816.8 L2167.5 816.4 L2169.0 816.0 L2170.5 815.6 L2172.0 815.2 L2173.5 814.8 L2175.0 814.4 L2176.5 813.9 L2178.0 813.5 L2179.5 813.1 L2181.0 812.7 L2182.5 812.3 L2184.0 811.9 L2185.5 811.5 L2187.0 811.1 L2188.5 810.7 L2190.0 810.3 L2191.5 809.8 L2193.0 809.4 L2194.5 809.0 L2196.0 808.6 L2197.5 808.2 L2199.0 807.8 L2200.5 807.4 L2202.0 807.0 L2203.5 806.6 L2205.0 806.1 L2206.5 805.7 L2208.0 805.3 L2209.5 804.9 L2211.0 804.5 L2212.5 804.0 L2214.0 803.6 L2215.5 803.2 L2217.0 802.8 L2218.5 802.3 L2220.0 801.9 L2221.5 801.4 L2223.0 801.0 L2224.5 800.5 L2226.0 800.0 L2227.5 799.6 L2229.0 799.1 L2230.5 798.6 L2232.0 798.1 L2233.5 797.5 L2235.0 797.0 L2236.5 796.4 L2238.0 795.9 L2239.5 795.3 L2241.0 794.7 L2242.5 794.0 L2244.0 793.4 L2245.5 792.7 L2247.0 792.0 L2248.5 791.2 L2250.0 790.4 L2251.5 789.6 L2253.0 788.7 L2254.5 787.8 L2256.0 786.8 L2257.5 785.8 L2259.0 784.7 L2260.5 783.5 L2262.0 782.3 L2263.5 781.0 L2265.0 779.6 L2266.5 778.1 L2268.0 776.6 L2269.5 774.9 L2271.0 773.2 L2272.5 771.3 L2274.0 769.3 L2275.5 767.3 L2277.0 765.1 L2278.5 762.8 L2280.0 760.4 L2281.5 757.9 L2283.0 755.3 L2284.5 752.6 L2286.0 749.7 L2287.5 746.8 L2289.0 743.7 L2290.5 740.6 L2292.0 737.3 L2293.5 734.0 L2295.0 730.5 L2296.5 727.0 L2298.0 723.4 L2299.5 719.7 L2301.0 715.9 L2302.5 712.1 L2304.0 708.2 L2305.5 704.3 L2307.0 700.2 L2308.5 696.2 L2310.0 692.1 L2311.5 687.9 L2313.0 683.8 L2314.5 679.5 L2316.0 675.3 L2317.5 671.0 L2319.0 666.7 L2320.5 662.4 L2322.0 658.0 L2323.5 653.6 L2325.0 649.3 L2326.5 644.8 L2328.0 640.4 L2329.5 636.0 L2331.0 631.6 L2332.5 627.1 L2334.0 622.6 L2335.5 618.2 L2337.0 613.7 L2338.5 609.2 L2340.0 604.7 L2341.5 600.3 L2343.0 595.8 L2344.5 591.3 L2346.0 586.8 L2347.5 582.3 L2349.0 577.8 L2350.5 573.3 L2352.0 568.8 L2353.5 564.3 L2355.0 559.8 L2356.5 555.3 L2358.0 550.8 L2359.5 546.3 L2361.0 541.8 L2362.5 537.3 L2364.0 532.8 L2365.5 528.3 L2367.0 523.8 L2368.5 519.4 L2370.0 514.9 L2371.5 510.4 L2373.0 505.9 L2374.5 501.4 L2376.0 497.0 L2377.5 492.5 L2379.0 488.0 L2380.5 483.5 L2382.0 479.1 L2383.5 474.6 L2385.0 470.1 L2386.5 465.7 L2388.0 461.2 L2389.5 456.8 L2391.0 452.3 L2392.5 447.9 L2394.7 441.4 L2393.8 317.8 L2394.2 313.8 L2394.5 309.7 L2394.8 305.6 L2395.1 301.4 L2395.4 297.4 L2395.8 293.6 L2396.3 290.0 L2396.9 286.8 L2397.6 283.9 L2398.5 281.3 L2399.4 278.9 L2400.5 276.8 L2401.5 274.8 L2402.5 273.0 L2403.5 271.4 L2404.5 270.0 L2405.4 268.8 L2406.3 267.8 L2407.1 267.1 L2407.9 266.5 L2408.8 266.0 L2409.7 265.6 L2410.6 265.3 L2411.5 264.9 L2412.5 264.5 L2413.5 264.2 L2414.5 264.0 L2415.6 263.8 L2416.7 263.7 L2417.7 263.7 L2418.9 263.7 L2420.0 263.8 L2423.0 263.9 L2424.2 264.1 L2425.5 264.3 L2426.8 264.6 L2428.0 265.0 L2429.3 265.5 L2430.5 266.2 L2431.6 267.1 L2432.7 268.2 L2433.7 269.4 L2434.7 270.7 L2435.7 272.2 L2436.7 273.8 L2437.6 275.6 L2438.4 277.6 L2439.2 279.8 L2439.9 282.2 L2440.6 284.9 L2441.2 287.8 L2441.8 290.8 L2442.3 293.9 L2442.8 297.2 L2443.2 300.4 L2443.7 303.7 L2444.1 306.9 L2444.5 310.1 L2444.9 313.3 L2445.2 316.6 L2445.5 320.0 L2445.9 323.7 L2446.2 327.6 L2446.5 331.8 L2446.8 336.4 L2447.1 341.4 L2447.5 346.6 L2447.8 352.0 L2448.1 357.6 L2448.4 363.1 L2448.7 368.6 L2449.0 374.0 L2451.5 444.8 L2453.5 450.8 L2454.0 213.6" stroke="#0000ff"/>
<path d="M1740.0 170.0 L1740.0 465.5 L1740.0 466.5 L1741.5 470.6 L1743.0 474.6 L1744.5 478.7 L1746.0 482.8 L1747.5 486.8 L1749.0 490.9 L1750.5 494.9 L1752.0 499.0 L1753.5 503.0 L1755.0 507.0 L1756.5 511.1 L1758.0 515.1 L1759.5 519.1 L1761.0 523.2 L1762.5 527.2 L1764.0 531.2 L1765.5 535.2 L1767.0 539.3 L1768.5 543.3 L1770.0 547.3 L1771.5 551.3 L1773.0 555.3 L1774.5 559.3 L1776.0 563.3 L1777.5 567.3 L1779.0 571.3 L1780.5 575.3 L1782.0 579.3 L1783.5 583.3 L1785.0 587.3 L1786.5 591.2 L1788.0 595.2 L1789.5 599.2 L1791.0 603.2 L1792.5 607.1 L1794.0 611.1 L1795.5 615.0 L1797.0 619.0 L1798.5 623.0 L1800.0 626.9 L1801.5 630.9 L1803.0 634.8 L1804.5 638.7 L1806.0 642.7 L1807.5 646.6 L1809.0 650.6 L1810.5 654.5 L1812.0 658.4 L1813.5 662.3 L1815.0 666.2 L1816.5 670.2 L1818.0 674.1 L1819.5 678.0 L1821.0 681.9 L1822.5 685.8 L1824.0 689.6 L1825.5 693.5 L1827.0 697.4 L1828.5 701.3 L1830.0 705.1 L1831.5 709.0 L1833.0 712.9 L1834.5 716.7 L1836.0 720.5 L1837.5 724.4 L1839.0 728.2 L1840.5 732.0 L1842.0 735.8 L1843.5 739.6 L1845.0 743.4 L1846.5 747.2 L1848.0 750.9 L1849.5 754.7 L1851.0 758.4 L1852.5 762.1 L1854.0 765.8 L1855.5 769.5 L1857.0 773.2 L1858.5 776.8 L1860.0 780.4 L1861.5 784.0 L1863.0 787.6 L1864.5 791.1 L1866.0 794.7 L1867.5 798.1 L1869.0 801.6 L1870.5 805.0 L1872.0 808.4 L1873.5 811.7 L1875.0 815.0 L1876.5 818.2 L1878.0 821.4 L1879.5 824.6 L1881.0 827.6 L1882.5 830.7 L1884.0 833.6 L1885.5 836.5 L1887.0 839.3 L1888.5 842.0 L1890.0 844.7 L1891.5 847.3 L1893.0 849.8 L1894.5 852.2 L1896.0 854.5 L1897.5 856.7 L1899.0 858.8 L1900.5 860.8 L1902.0 862.8 L1903.5 864.6 L1905.0 866.3 L1906.5 868.0 L1908.0 869.5 L1909.5 870.9 L1911.0 872.3 L1912.5 873.5 L1914.0 874.7 L1915.5 875.7 L1917.0 876.7 L1918.5 877.5 L1920.0 878.3 L1921.5 879.0 L1923.0 879.7 L1924.5 880.2 L1926.0 880.7 L1927.5 881.1 L1929.0 881.4 L1930.5 881.7 L1932.0 881.9 L1933.5 882.1 L1935.0 882.2 L1936.5 882.3 L1938.0 882.3 L1939.5 882.3 L1941.0 882.3 L1942.5 882.2 L1944.0 882.0 L1945.5 881.9 L1947.0 881.7 L1948.5 881.5 L1950.0 881.3 L1951.5 881.0 L1953.0 880.7 L1954.5 880.5 L1956.0 880.1 L1957.5 879.8 L1959.0 879.5 L1960.5 879.1 L1962.0 878.8 L1963.5 878.4 L1965.0 878.0 L1966.5 877.6 L1968.0 877.2 L1969.5 876.8 L1971.0 876.4 L1972.5 876.0 L1974.0 875.5 L1975.5 875.1 L1977.0 874.7 L1978.5 874.2 L1980.0 873.8 L1981.5 873.3 L1983.0 872.9 L1984.5 872.4 L1986.0 872.0 L1987.5 871.5 L1989.0 871.0 L1990.5 870.6 L1992.0 870.1 L1993.5 869.7 L1995.0 869.2 L1996.5 868.7 L1998.0 868.3 L1999.5 867.8 L2001.0 867.3 L2002.5 866.8 L2004.0 866.4 L2005.5 865.9 L2007.0 865.4 L2008.5 865.0 L2010.0 864.5 L2011.5 864.0 L2013.0 863.6 L2014.5 863.1 L2016.0 862.6 L2017.5 862.1 L2019.0 861.7 L2020.5 861.2 L2022.0 860.7 L2023.5 860.3 L2025.0 859.8 L2026.5 859.3 L2028.0 858.9 L2029.5 858.4 L2031.0 857.9 L2032.5 857.5 L2034.0 857.0 L2035.5 856.5 L2037.0 856.1 L2038.5 855.6 L2040.0 855.1 L2041.5 854.7 L2043.0 854.2 L2044.5 853.7 L2046.0 853.3 L2047.5 852.8 L2049.0 852.4 L2050.5 851.9 L2052.0 851.4 L2053.5 851.0 L2055.0 850.5 L2056.5 850.1 L2058.0 849.6 L2059.5 849.2 L2061.0 848.7 L2062.5 848.2 L2064.0 847.8 L2065.5 847.3 L2067.0 846.9 L2068.5 846.4 L2070.0 846.0 L2071.5 845.5 L2073.0 845.1 L2074.5 844.6 L2076.0 844.2 L2077.5 843.7 L2079.0 843.3 L2080.5 842.8 L2082.0 842.4 L2083.5 841.9 L2085.0 841.5 L2086.5 841.0 L2088.0 840.6 L2089.5 840.1 L2091.0 839.7 L2092.5 839.3 L2094.0 838.8 L2095.5 838.4 L2097.0 837.9 L2098.5 837.5 L2100.0 837.1 L2101.5 836.6 L2103.0 836.2 L2104.5 835.7 L2106.0 835.3 L2107.5 834.9 L2109.0 834.4 L2110.5 834.0 L2112.0 833.5 L2113.5 833.1 L2115.0 832.7 L2116.5 832.2 L2118.0 831.8 L2119.5 831.4 L2121.0 830.9 L2122.5 830.5 L2124.0 830.1 L2125.5 829.6 L2127.0 829.2 L2128.5 828.8 L2130.0 828.3 L2131.5 827.9 L2133.0 827.5 L2134.5 827.0 L2136.0 826.6 L2137.5 826.2 L2139.0 825.8 L2140.5 825.3 L2142.0 824.9 L2143.5 824.5 L2145.0 824.0 L2146.5 823.6 L2148.0 823.2 L2149.5 822.7 L2151.0 822.3 L2152.5 821.9 L2154.0 821.5 L2155.5 821.0 L2157.0 820.6 L2158.5 820.2 L2160.0 819.7 L2161.5 819.3 L2163.0 818.8 L2164.5 818.4 L2166.0 818.0 L2167.5 817.5 L2169.0 817.1 L2170.5 816.6 L2172.0 816.2 L2173.5 815.7 L2175.0 815.3 L2176.5 814.8 L2178.0 814.4 L2179.5 813.9 L2181.0 813.4 L2182.5 813.0 L2184.0 812.5 L2185.5 812.0 L2187.0 811.5 L2188.5 811.0 L2190.0 810.5 L2191.5 810.0 L2193.0 809.5 L2194.5 809.0 L2196.0 808.5 L2197.5 807.9 L2199.0 807.4 L2200.5 806.8 L2202.0 806.2 L2203.5 805.7 L2205.0 805.1 L2206.5 804.4 L2208.0 803.8 L2209.5 803.2 L2211.0 802.5 L2212.5 801.8 L2214.0 801.1 L2215.5 800.4 L2217.0 799.6 L2218.5 798.8 L2220.0 798.0 L2221.5 797.2 L2223.0 796.3 L2224.5 795.4 L2226.0 794.4 L2227.5 793.4 L2229.0 792.4 L2230.5 791.4 L2232.0 790.3 L2233.5 789.1 L2235.0 787.9 L2236.5 786.6 L2238.0 785.3 L2239.5 784.0 L2241.0 782.5 L2242.5 781.1 L2244.0 779.5 L2245.5 777.9 L2247.0 776.3 L2248.5 774.5 L2250.0 772.7 L2251.5 770.8 L2253.0 768.9 L2254.5 766.9 L2256.0 764.8 L2257.5 762.7 L2259.0 760.4 L2260.5 758.1 L2262.0 755.8 L2263.5 753.3 L2265.0 750.8 L2266.5 748.2 L2268.0 745.6 L2269.5 742.8 L2271.0 740.1 L2272.5 737.2 L2274.0 734.3 L2275.5 731.3 L2277.0 728.3 L2278.5 725.2 L2280.0 722.1 L2281.5 718.9 L2283.0 715.7 L2284.5 712.4 L2286.0 709.1 L2287.5 705.7 L2289.0 702.3 L2290.5 698.9 L2292.0 695.4 L2293.5 691.9 L2295.0 688.3 L2296.5 684.7 L2298.0 681.1 L2299.5 677.5 L2301.0 673.8 L2302.5 670.2 L2304.0 666.5 L2305.5 662.7 L2307.0 659.0 L2308.5 655.2 L2310.0 651.5 L2311.5 647.7 L2313.0 643.9 L2314.5 640.0 L2316.0 636.2 L2317.5 632.4 L2319.0 628.5 L2320.5 624.6 L2322.0 620.8 L2323.5 616.9 L2325.0 613.0 L2326.5 609.1 L2328.0 605.2 L2329.5 601.3 L2331.0 597.4 L2332.5 593.5 L2334.0 589.5 L2335.5 585.6 L2337.0 581.7 L2338.5 577.7 L2340.0 573.8 L2341.5 569.9 L2343.0 565.9 L2344.5 562.0 L2346.0 558.0 L2347.5 554.1 L2349.0 550.1 L2350.5 546.2 L2352.0 542.2 L2353.5 538.3 L2355.0 534.3 L2356.5 530.4 L2358.0 526.4 L2359.5 522.4 L2361.0 518.5 L2362.5 514.5 L2364.0 510.6 L2365.5 506.6 L2367.0 502.6 L2368.5 498.7 L2370.0 494.7 L2371.5 490.8 L2373.0 486.8 L2374.5 482.8 L2376.0 478.9 L2377.5 474.9 L2379.0 470.9 L2380.5 467.0 L2382.0 463.0 L2383.5 459.1 L2385.0 455.1 L2386.5 451.2 L2388.0 447.2 L2389.5 443.2 L2391.0 439.3 L2392.5 435.3 L2394.7 429.5 L2394.1 318.1 L2394.5 314.1 L2394.8 310.0 L2395.1 305.9 L2395.4 301.7 L2395.7 297.7 L2396.1 293.9 L2396.6 290.3 L2397.2 287.1 L2397.9 284.2 L2398.8 281.6 L2399.7 279.2 L2400.8 277.1 L2401.8 275.1 L2402.8 273.3 L2403.8 271.7 L2404.8 270.3 L2405.7 269.1 L2406.6 268.1 L2407.4 267.4 L2408.2 266.8 L2409.1 266.3 L2410.0 265.9 L2410.9 265.6 L2411.8 265.2 L2412.8 264.8 L2413.8 264.5 L2414.8 264.3 L2415.9 264.1 L2417.0 264.0 L2418.0 264.0 L2419.2 264.0 L2420.3 264.1 L2422.7 264.2 L2423.9 264.4 L2425.2 264.6 L2426.5 264.9 L2427.7 265.3 L2429.0 265.8 L2430.2 266.5 L2431.3 267.4 L2432.4 268.5 L2433.4 269.7 L2434.4 271.0 L2435.4 272.5 L2436.4 274.1 L2437.3 275.9 L2438.1 277.9 L2438.9 280.1 L2439.6 282.5 L2440.3 285.2 L2440.9 288.1 L2441.5 291.1 L2442.0 294.2 L2442.5 297.5 L2442.9 300.7 L2443.4 304.0 L2443.8 307.2 L2444.2 310.4 L2444.6 313.6 L2444.9 316.9 L2445.2 320.3 L2445.6 324.0 L2445.9 327.9 L2446.2 332.1 L2446.5 336.7 L2446.8 341.7 L2447.2 346.9 L2447.5 352.3 L2447.8 357.9 L2448.1 363.4 L2448.4 368.9 L2448.7 374.3 L2451.5 421.0 L2453.5 427.0 L2454.0 223.5" stroke="#008000"/>
<path d="M1740.0 170.0 L1740.0 437.0 L1740.0 438.0 L1741.5 441.5 L1743.0 445.0 L1744.5 448.6 L1746.0 452.1 L1747.5 455.6 L1749.0 459.1 L1750.5 462.7 L1752.0 466.2 L1753.5 469.7 L1755.0 473.2 L1756.5 476.7 L1758.0 480.2 L1759.5 483.7 L1761.0 487.2 L1762.5 490.7 L1764.0 494.2 L1765.5 497.7 L1767.0 501.2 L1768.5 504.7 L1770.0 508.2 L1771.5 511.6 L1773.0 515.1 L1774.5 518.6 L1776.0 522.1 L1777.5 525.5 L1779.0 529.0 L1780.5 532.5 L1782.0 535.9 L1783.5 539.4 L1785.0 542.9 L1786.5 546.3 L1788.0 549.8 L1789.5 553.2 L1791.0 556.7 L1792.5 560.1 L1794.0 563.6 L1795.5 567.0 L1797.0 570.4 L1798.5 573.9 L1800.0 577.3 L1801.5 580.7 L1803.0 584.2 L1804.5 587.6 L1806.0 591.0 L1807.5 594.4 L1809.0 597.8 L1810.5 601.2 L1812.0 604.6 L1813.5 608.1 L1815.0 611.5 L1816.5 614.9 L1818.0 618.3 L1819.5 621.7 L1821.0 625.0 L1822.5 628.4 L1824.0 631.8 L1825.5 635.2 L1827.0 638.6 L1828.5 642.0 L1830.0 645.3 L1831.5 648.7 L1833.0 652.1 L1834.5 655.4 L1836.0 658.8 L1837.5 662.1 L1839.0 665.5 L1840.5 668.8 L1842.0 672.2 L1843.5 675.5 L1845.0 678.9 L1846.5 682.2 L1848.0 685.5 L1849.5 688.9 L1851.0 692.2 L1852.5 695.5 L1854.0 698.8 L1855.5 702.1 L1857.0 705.4 L1858.5 708.7 L1860.0 712.0 L1861.5 715.3 L1863.0 718.5 L1864.5 721.8 L1866.0 725.1 L1867.5 728.3 L1869.0 731.6 L1870.5 734.8 L1872.0 738.0 L1873.5 741.2 L1875.0 744.5 L1876.5 747.7 L1878.0 750.8 L1879.5 754.0 L1881.0 757.2 L1882.5 760.3 L1884.0 763.5 L1885.5 766.6 L1887.0 769.7 L1888.5 772.8 L1890.0 775.8 L1891.5 778.9 L1893.0 781.9 L1894.5 784.9 L1896.0 787.9 L1897.5 790.8 L1899.0 793.8 L1900.5 796.7 L1902.0 799.5 L1903.5 802.4 L1905.0 805.2 L1906.5 808.0 L1908.0 810.7 L1909.5 813.4 L1911.0 816.0 L1912.5 818.6 L1914.0 821.2 L1915.5 823.7 L1917.0 826.1 L1918.5 828.5 L1920.0 830.9 L1921.5 833.2 L1923.0 835.4 L1924.5 837.6 L1926.0 839.7 L1927.5 841.7 L1929.0 843.7 L1930.5 845.6 L1932.0 847.4 L1933.5 849.1 L1935.0 850.8 L1936.5 852.4 L1938.0 853.9 L1939.5 855.4 L1941.0 856.8 L1942.5 858.1 L1944.0 859.3 L1945.5 860.5 L1947.0 861.5 L1948.5 862.6 L1950.0 863.5 L1951.5 864.4 L1953.0 865.2 L1954.5 865.9 L1956.0 866.5 L1957.5 867.1 L1959.0 867.7 L1960.5 868.2 L1962.0 868.6 L1963.5 869.0 L1965.0 869.3 L1966.5 869.5 L1968.0 869.8 L1969.5 869.9 L1971.0 870.1 L1972.5 870.2 L1974.0 870.2 L1975.5 870.2 L1977.0 870.2 L1978.5 870.2 L1980.0 870.1 L1981.5 870.0 L1983.0 869.8 L1984.5 869.7 L1986.0 869.5 L1987.5 869.3 L1989.0 869.1 L1990.5 868.8 L1992.0 868.6 L1993.5 868.3 L1995.0 868.0 L1996.5 867.7 L1998.0 867.4 L1999.5 867.1 L2001.0 866.7 L2002.5 866.4 L2004.0 866.0 L2005.5 865.6 L2007.0 865.3 L2008.5 864.9 L2010.0 864.5 L2011.5 864.1 L2013.0 863.7 L2014.5 863.3 L2016.0 862.9 L2017.5 862.5 L2019.0 862.0 L2020.5 861.6 L2022.0 861.2 L2023.5 860.8 L2025.0 860.3 L2026.5 859.9 L2028.0 859.5 L2029.5 859.0 L2031.0 858.6 L2032.5 858.1 L2034.0 857.7 L2035.5 857.3 L2037.0 856.8 L2038.5 856.4 L2040.0 855.9 L2041.5 855.5 L2043.0 855.0 L2044.5 854.6 L2046.0 854.1 L2047.5 853.7 L2049.0 853.2 L2050.5 852.8 L2052.0 852.3 L2053.5 851.9 L2055.0 851.4 L2056.5 851.0 L2058.0 850.5 L2059.5 850.0 L2061.0 849.6 L2062.5 849.1 L2064.0 848.7 L2065.5 848.2 L2067.0 847.8 L2068.5 847.3 L2070.0 846.9 L2071.5 846.4 L2073.0 846.0 L2074.5 845.5 L2076.0 845.1 L2077.5 844.6 L2079.0 844.2 L2080.5 843.7 L2082.0 843.3 L2083.5 842.8 L2085.0 842.4 L2086.5 841.9 L2088.0 841.5 L2089.5 841.0 L2091.0 840.6 L2092.5 840.1 L2094.0 839.7 L2095.5 839.2 L2097.0 838.8 L2098.5 838.3 L2100.0 837.9 L2101.5 837.4 L2103.0 837.0 L2104.5 836.5 L2106.0 836.1 L2107.5 835.6 L2109.0 835.2 L2110.5 834.7 L2112.0 834.2 L2113.5 833.8 L2115.0 833.3 L2116.5 832.9 L2118.0 832.4 L2119.5 832.0 L2121.0 831.5 L2122.5 831.0 L2124.0 830.6 L2125.5 830.1 L2127.0 829.7 L2128.5 829.2 L2130.0 828.7 L2131.5 828.3 L2133.0 827.8 L2134.5 827.3 L2136.0 826.8 L2137.5 826.3 L2139.0 825.9 L2140.5 825.4 L2142.0 824.9 L2143.5 824.4 L2145.0 823.9 L2146.5 823.4 L2148.0 822.9 L2149.5 822.4 L2151.0 821.9 L2152.5 821.3 L2154.0 820.8 L2155.5 820.3 L2157.0 819.7 L2158.5 819.2 L2160.0 818.6 L2161.5 818.0 L2163.0 817.5 L2164.5 816.9 L2166.0 816.3 L2167.5 815.7 L2169.0 815.1 L2170.5 814.4 L2172.0 813.8 L2173.5 813.1 L2175.0 812.5 L2176.5 811.8 L2178.0 811.1 L2179.5 810.4 L2181.0 809.6 L2182.5 808.9 L2184.0 808.1 L2185.5 807.3 L2187.0 806.5 L2188.5 805.6 L2190.0 804.8 L2191.5 803.9 L2193.0 802.9 L2194.5 802.0 L2196.0 801.0 L2197.5 800.0 L2199.0 799.0 L2200.5 797.9 L2202.0 796.8 L2203.5 795.7 L2205.0 794.5 L2206.5 793.3 L2208.0 792.1 L2209.5 790.8 L2211.0 789.4 L2212.5 788.1 L2214.0 786.7 L2215.5 785.2 L2217.0 783.7 L2218.5 782.2 L2220.0 780.6 L2221.5 779.0 L2223.0 777.3 L2224.5 775.6 L2226.0 773.8 L2227.5 772.0 L2229.0 770.1 L2230.5 768.2 L2232.0 766.2 L2233.5 764.2 L2235.0 762.2 L2236.5 760.1 L2238.0 757.9 L2239.5 755.7 L2241.0 753.5 L2242.5 751.2 L2244.0 748.9 L2245.5 746.5 L2247.0 744.1 L2248.5 741.6 L2250.0 739.1 L2251.5 736.5 L2253.0 734.0 L2254.5 731.3 L2256.0 728.7 L2257.5 726.0 L2259.0 723.3 L2260.5 720.5 L2262.0 717.7 L2263.5 714.9 L2265.0 712.0 L2266.5 709.1 L2268.0 706.2 L2269.5 703.3 L2271.0 700.3 L2272.5 697.3 L2274.0 694.3 L2275.5 691.2 L2277.0 688.1 L2278.5 685.1 L2280.0 682.0 L2281.5 678.8 L2283.0 675.7 L2284.5 672.5 L2286.0 669.3 L2287.5 666.1 L2289.0 662.9 L2290.5 659.7 L2292.0 656.5 L2293.5 653.2 L2295.0 649.9 L2296.5 646.7 L2298.0 643.4 L2299.5 640.1 L2301.0 636.8 L2302.5 633.4 L2304.0 630.1 L2305.5 626.8 L2307.0 623.4 L2308.5 620.1 L2310.0 616.7 L2311.5 613.3 L2313.0 609.9 L2314.5 606.5 L2316.0 603.2 L2317.5 599.7 L2319.0 596.3 L2320.5 592.9 L2322.0 589.5 L2323.5 586.1 L2325.0 582.6 L2326.5 579.2 L2328.0 575.8 L2329.5 572.3 L2331.0 568.9 L2332.5 565.4 L2334.0 562.0 L2335.5 558.5 L2337.0 555.0 L2338.5 551.5 L2340.0 548.1 L2341.5 544.6 L2343.0 541.1 L2344.5 537.6 L2346.0 534.1 L2347.5 530.6 L2349.0 527.1 L2350.5 523.6 L2352.0 520.1 L2353.5 516.6 L2355.0 513.1 L2356.5 509.6 L2358.0 506.1 L2359.5 502.5 L2361.0 499.0 L2362.5 495.5 L2364.0 491.9 L2365.5 488.4 L2367.0 484.9 L2368.5 481.3 L2370.0 477.8 L2371.5 474.2 L2373.0 470.7 L2374.5 467.1 L2376.0 463.6 L2377.5 460.0 L2379.0 456.5 L2380.5 452.9 L2382.0 449.3 L2383.5 445.8 L2385.0 442.2 L2386.5 438.6 L2388.0 435.0 L2389.5 431.5 L2391.0 427.9 L2392.5 424.3 L2394.7 419.0 L2394.4 318.4 L2394.8 314.4 L2395.1 310.3 L2395.4 306.2 L2395.7 302.0 L2396.0 298.0 L2396.4 294.2 L2396.9 290.6 L2397.5 287.4 L2398.2 284.5 L2399.1 281.9 L2400.0 279.5 L2401.1 277.4 L2402.1 275.4 L2403.1 273.6 L2404.1 272.0 L2405.1 270.6 L2406.0 269.4 L2406.9 268.4 L2407.7 267.7 L2408.5 267.1 L2409.4 266.6 L2410.3 266.2 L2411.2 265.9 L2412.1 265.5 L2413.1 265.1 L2414.1 264.8 L2415.1 264.6 L2416.2 264.4 L2417.3 264.3 L2418.3 264.3 L2419.5 264.3 L2420.6 264.4 L2422.4 264.5 L2423.6 264.7 L2424.9 264.9 L2426.2 265.2 L2427.4 265.6 L2428.7 266.1 L2429.9 266.8 L2431.0 267.7 L2432.1 268.8 L2433.1 270.0 L2434.1 271.3 L2435.1 272.8 L2436.1 274.4 L2437.0 276.2 L2437.8 278.2 L2438.6 280.4 L2439.3 282.8 L2440.0 285.5 L2440.6 288.4 L2441.2 291.4 L2441.7 294.5 L2442.2 297.8 L2442.6 301.0 L2443.1 304.3 L2443.5 307.5 L2443.9 310.7 L2444.3 313.9 L2444.6 317.2 L2444.9 320.6 L2445.3 324.3 L2445.6 328.2 L2445.9 332.4 L2446.2 337.0 L2446.5 342.0 L2446.9 347.2 L2447.2 352.6 L2447.5 358.2 L2447.8 363.7 L2448.1 369.2 L2448.4 374.6 L2451.5 402.6 L2453.5 408.6 L2454.0 232.0" stroke="#ff8000"/>
<path d="M1740.0 173.0 L1740.0 409.9 L1740.0 410.9 L1741.5 414.2 L1743.0 417.5 L1744.5 420.8 L1746.0 424.1 L1747.5 427.4 L1749.0 430.7 L1750.5 434.0 L1752.0 437.3 L1753.5 440.5 L1755.0 443.8 L1756.5 447.0 L1758.0 450.3 L1759.5 453.6 L1761.0 456.8 L1762.5 460.0 L1764.0 463.3 L1765.5 466.5 L1767.0 469.7 L1768.5 472.9 L1770.0 476.1 L1771.5 479.3 L1773.0 482.5 L1774.5 485.7 L1776.0 488.9 L1777.5 492.1 L1779.0 495.3 L1780.5 498.5 L1782.0 501.6 L1783.5 504.8 L1785.0 508.0 L1786.5 511.1 L1788.0 514.3 L1789.5 517.4 L1791.0 520.5 L1792.5 523.7 L1794.0 526.8 L1795.5 529.9 L1797.0 533.0 L1798.5 536.2 L1800.0 539.3 L1801.5 542.4 L1803.0 545.5 L1804.5 548.5 L1806.0 551.6 L1807.5 554.7 L1809.0 557.8 L1810.5 560.9 L1812.0 563.9 L1813.5 567.0 L1815.0 570.0 L1816.5 573.1 L1818.0 576.1 L1819.5 579.2 L1821.0 582.2 L1822.5 585.2 L1824.0 588.2 L1825.5 591.3 L1827.0 594.3 L1828.5 597.3 L1830.0 600.3 L1831.5 603.3 L1833.0 606.3 L1834.5 609.2 L1836.0 612.2 L1837.5 615.2 L1839.0 618.2 L1840.5 621.1 L1842.0 624.1 L1843.5 627.0 L1845.0 630.0 L1846.5 632.9 L1848.0 635.9 L1849.5 638.8 L1851.0 641.7 L1852.5 644.6 L1854.0 647.6 L1855.5 650.5 L1857.0 653.4 L1858.5 656.3 L1860.0 659.2 L1861.5 662.1 L1863.0 664.9 L1864.5 667.8 L1866.0 670.7 L1867.5 673.6 L1869.0 676.4 L1870.5 679.3 L1872.0 682.1 L1873.5 685.0 L1875.0 687.8 L1876.5 690.6 L1878.0 693.4 L1879.5 696.3 L1881.0 699.1 L1882.5 701.9 L1884.0 704.7 L1885.5 707.5 L1887.0 710.3 L1888.5 713.0 L1890.0 715.8 L1891.5 718.6 L1893.0 721.3 L1894.5 724.1 L1896.0 726.8 L1897.5 729.6 L1899.0 732.3 L1900.5 735.0 L1902.0 737.7 L1903.5 740.4 L1905.0 743.1 L1906.5 745.8 L1908.0 748.5 L1909.5 751.2 L1911.0 753.8 L1912.5 756.5 L1914.0 759.1 L1915.5 761.7 L1917.0 764.4 L1918.5 767.0 L1920.0 769.5 L1921.5 772.1 L1923.0 774.7 L1924.5 777.2 L1926.0 779.7 L1927.5 782.3 L1929.0 784.8 L1930.5 787.2 L1932.0 789.7 L1933.5 792.1 L1935.0 794.5 L1936.5 796.9 L1938.0 799.3 L1939.5 801.6 L1941.0 803.9 L1942.5 806.2 L1944.0 808.4 L1945.5 810.7 L1947.0 812.8 L1948.5 815.0 L1950.0 817.1 L1951.5 819.2 L1953.0 821.2 L1954.5 823.2 L1956.0 825.1 L1957.5 827.0 L1959.0 828.9 L1960.5 830.7 L1962.0 832.4 L1963.5 834.1 L1965.0 835.8 L1966.5 837.4 L1968.0 838.9 L1969.5 840.3 L1971.0 841.7 L1972.5 843.1 L1974.0 844.4 L1975.5 845.6 L1977.0 846.7 L1978.5 847.8 L1980.0 848.9 L1981.5 849.9 L1983.0 850.8 L1984.5 851.6 L1986.0 852.4 L1987.5 853.2 L1989.0 853.8 L1990.5 854.5 L1992.0 855.0 L1993.5 855.5 L1995.0 856.0 L1996.5 856.4 L1998.0 856.8 L1999.5 857.1 L2001.0 857.3 L2002.5 857.5 L2004.0 857.7 L2005.5 857.9 L2007.0 858.0 L2008.5 858.0 L2010.0 858.0 L2011.5 858.0 L2013.0 858.0 L2014.5 857.9 L2016.0 857.8 L2017.5 857.7 L2019.0 857.6 L2020.5 857.4 L2022.0 857.2 L2023.5 857.0 L2025.0 856.8 L2026.5 856.5 L2028.0 856.3 L2029.5 856.0 L2031.0 855.7 L2032.5 855.4 L2034.0 855.1 L2035.5 854.7 L2037.0 854.4 L2038.5 854.1 L2040.0 853.7 L2041.5 853.3 L2043.0 853.0 L2044.5 852.6 L2046.0 852.2 L2047.5 851.8 L2049.0 851.4 L2050.5 851.0 L2052.0 850.6 L2053.5 850.2 L2055.0 849.8 L2056.5 849.3 L2058.0 848.9 L2059.5 848.5 L2061.0 848.1 L2062.5 847.6 L2064.0 847.2 L2065.5 846.8 L2067.0 846.3 L2068.5 845.9 L2070.0 845.4 L2071.5 845.0 L2073.0 844.5 L2074.5 844.1 L2076.0 843.6 L2077.5 843.2 L2079.0 842.7 L2080.5 842.2 L2082.0 841.8 L2083.5 841.3 L2085.0 840.8 L2086.5 840.4 L2088.0 839.9 L2089.5 839.4 L2091.0 839.0 L2092.5 838.5 L2094.0 838.0 L2095.5 837.5 L2097.0 837.0 L2098.5 836.6 L2100.0 836.1 L2101.5 835.6 L2103.0 835.1 L2104.5 834.6 L2106.0 834.1 L2107.5 833.6 L2109.0 833.1 L2110.5 832.5 L2112.0 832.0 L2113.5 831.5 L2115.0 831.0 L2116.5 830.4 L2118.0 829.9 L2119.5 829.3 L2121.0 828.8 L2122.5 828.2 L2124.0 827.7 L2125.5 827.1 L2127.0 826.5 L2128.5 825.9 L2130.0 825.3 L2131.5 824.7 L2133.0 824.1 L2134.5 823.4 L2136.0 822.8 L2137.5 822.1 L2139.0 821.5 L2140.5 820.8 L2142.0 820.1 L2143.5 819.4 L2145.0 818.7 L2146.5 817.9 L2148.0 817.2 L2149.5 816.4 L2151.0 815.6 L2152.5 814.8 L2154.0 813.9 L2155.5 813.1 L2157.0 812.2 L2158.5 811.3 L2160.0 810.4 L2161.5 809.5 L2163.0 808.5 L2164.5 807.5 L2166.0 806.5 L2167.5 805.5 L2169.0 804.4 L2170.5 803.3 L2172.0 802.1 L2173.5 801.0 L2175.0 799.8 L2176.5 798.6 L2178.0 797.3 L2179.5 796.0 L2181.0 794.7 L2182.5 793.4 L2184.0 792.0 L2185.5 790.6 L2187.0 789.1 L2188.5 787.6 L2190.0 786.1 L2191.5 784.6 L2193.0 783.0 L2194.5 781.3 L2196.0 779.7 L2197.5 778.0 L2199.0 776.3 L2200.5 774.5 L2202.0 772.7 L2203.5 770.9 L2205.0 769.0 L2206.5 767.1 L2208.0 765.2 L2209.5 763.3 L2211.0 761.3 L2212.5 759.2 L2214.0 757.2 L2215.5 755.1 L2217.0 752.9 L2218.5 750.8 L2220.0 748.6 L2221.5 746.4 L2223.0 744.2 L2224.5 741.9 L2226.0 739.6 L2227.5 737.3 L2229.0 734.9 L2230.5 732.6 L2232.0 730.2 L2233.5 727.8 L2235.0 725.3 L2236.5 722.9 L2238.0 720.4 L2239.5 717.9 L2241.0 715.4 L2242.5 712.9 L2244.0 710.3 L2245.5 707.7 L2247.0 705.2 L2248.5 702.6 L2250.0 699.9 L2251.5 697.3 L2253.0 694.7 L2254.5 692.0 L2256.0 689.3 L2257.5 686.6 L2259.0 683.9 L2260.5 681.2 L2262.0 678.5 L2263.5 675.8 L2265.0 673.0 L2266.5 670.3 L2268.0 667.5 L2269.5 664.7 L2271.0 662.0 L2272.5 659.2 L2274.0 656.4 L2275.5 653.6 L2277.0 650.7 L2278.5 647.9 L2280.0 645.1 L2281.5 642.2 L2283.0 639.4 L2284.5 636.5 L2286.0 633.7 L2287.5 630.8 L2289.0 627.9 L2290.5 625.0 L2292.0 622.1 L2293.5 619.2 L2295.0 616.3 L2296.5 613.4 L2298.0 610.5 L2299.5 607.6 L2301.0 604.6 L2302.5 601.7 L2304.0 598.8 L2305.5 595.8 L2307.0 592.8 L2308.5 589.9 L2310.0 586.9 L2311.5 584.0 L2313.0 581.0 L2314.5 578.0 L2316.0 575.0 L2317.5 572.0 L2319.0 569.0 L2320.5 566.0 L2322.0 563.0 L2323.5 560.0 L2325.0 557.0 L2326.5 553.9 L2328.0 550.9 L2329.5 547.9 L2331.0 544.8 L2332.5 541.8 L2334.0 538.8 L2335.5 535.7 L2337.0 532.6 L2338.5 529.6 L2340.0 526.5 L2341.5 523.4 L2343.0 520.4 L2344.5 517.3 L2346.0 514.2 L2347.5 511.1 L2349.0 508.0 L2350.5 504.9 L2352.0 501.8 L2353.5 498.7 L2355.0 495.6 L2356.5 492.4 L2358.0 489.3 L2359.5 486.2 L2361.0 483.0 L2362.5 479.9 L2364.0 476.8 L2365.5 473.6 L2367.0 470.5 L2368.5 467.3 L2370.0 464.1 L2371.5 461.0 L2373.0 457.8 L2374.5 454.6 L2376.0 451.4 L2377.5 448.2 L2379.0 445.1 L2380.5 441.9 L2382.0 438.7 L2383.5 435.4 L2385.0 432.2 L2386.5 429.0 L2388.0 425.8 L2389.5 422.6 L2391.0 419.3 L2392.5 416.1 L2394.7 411.4 L2394.7 318.7 L2395.1 314.7 L2395.4 310.6 L2395.7 306.5 L2396.0 302.3 L2396.3 298.3 L2396.7 294.5 L2397.2 290.9 L2397.8 287.7 L2398.5 284.8 L2399.4 282.2 L2400.3 279.8 L2401.4 277.7 L2402.4 275.7 L2403.4 273.9 L2404.4 272.3 L2405.4 270.9 L2406.3 269.7 L2407.2 268.7 L2408.0 268.0 L2408.8 267.4 L2409.7 266.9 L2410.6 266.5 L2411.5 266.2 L2412.4 265.8 L2413.4 265.4 L2414.4 265.1 L2415.4 264.9 L2416.5 264.7 L2417.6 264.6 L2418.6 264.6 L2419.8 264.6 L2420.9 264.7 L2422.1 264.8 L2423.3 265.0 L2424.6 265.2 L2425.9 265.5 L2427.1 265.9 L2428.4 266.4 L2429.6 267.1 L2430.7 268.0 L2431.8 269.1 L2432.8 270.3 L2433.8 271.6 L2434.8 273.1 L2435.8 274.7 L2436.7 276.5 L2437.5 278.5 L2438.3 280.7 L2439.0 283.1 L2439.7 285.8 L2440.3 288.7 L2440.9 291.7 L2441.4 294.8 L2441.9 298.1 L2442.3 301.3 L2442.8 304.6 L2443.2 307.8 L2443.6 311.0 L2444.0 314.2 L2444.3 317.5 L2444.6 320.9 L2445.0 324.6 L2445.3 328.5 L2445.6 332.7 L2445.9 337.3 L2446.2 342.3 L2446.6 347.5 L2446.9 352.9 L2447.2 358.5 L2447.5 364.0 L2447.8 369.5 L2448.1 374.9 L2451.5 388.6 L2453.5 394.6 L2454.0 240.3" stroke="#000000"/>
</g>
</g>
<g fill="none" stroke-width="12" stroke-linecap="round">
<line x1="620.0" y1="207.9" x2="782.0" y2="207.9" stroke="#ff0000"/>
<line x1="620.0" y1="297.4" x2="782.0" y2="297.4" stroke="#0000ff"/>
<line x1="620.0" y1="387.0" x2="782.0" y2="387.0" stroke="#008000"/>
<line x1="620.0" y1="476.5" x2="782.0" y2="476.5" stroke="#ff8000"/>
<line x1="620.0" y1="566.1" x2="782.0" y2="566.1" stroke="#000000"/>
<line x1="1196.8" y1="198.5" x2="1358.2" y2="198.5" stroke="#ff0000"/>
<line x1="1196.8" y1="287.9" x2="1358.2" y2="287.9" stroke="#0000ff"/>
<line x1="1196.8" y1="377.4" x2="1358.2" y2="377.4" stroke="#008000"/>
<line x1="1196.8" y1="466.9" x2="1358.2" y2="466.9" stroke="#ff8000"/>
<line x1="1196.8" y1="556.3" x2="1358.2" y2="556.3" stroke="#000000"/>
<line x1="1947.9" y1="212.0" x2="2109.1" y2="212.0" stroke="#ff0000"/>
<line x1="1947.9" y1="301.5" x2="2109.1" y2="301.5" stroke="#0000ff"/>
<line x1="1947.9" y1="391.0" x2="2109.1" y2="391.0" stroke="#008000"/>
<line x1="1947.9" y1="480.5" x2="2109.1" y2="480.5" stroke="#ff8000"/>
<line x1="1947.9" y1="570.0" x2="2109.1" y2="570.0" stroke="#000000"/>
</g>
<g>
<text transform="translate(799.26 233.05) scale(0.9600 1)" font-size="77.0">300 K</text>
<text transform="translate(1374.64 223.90) scale(0.9680 1)" font-size="77.0">300 K</text>
<text transform="translate(2127.09 236.90) scale(0.9630 1)" font-size="77.0">300 K</text>
<text transform="translate(799.26 322.50) scale(0.9600 1)" font-size="77.0">350 K</text>
<text transform="translate(1374.64 313.25) scale(0.9680 1)" font-size="77.0">350 K</text>
<text transform="translate(2127.09 326.40) scale(0.9630 1)" font-size="77.0">350 K</text>
<text transform="translate(799.26 411.95) scale(0.9600 1)" font-size="77.0">400 K</text>
<text transform="translate(1374.64 402.60) scale(0.9680 1)" font-size="77.0">400 K</text>
<text transform="translate(2127.09 415.90) scale(0.9630 1)" font-size="77.0">400 K</text>
<text transform="translate(799.26 501.40) scale(0.9600 1)" font-size="77.0">450 K</text>
<text transform="translate(1374.64 491.95) scale(0.9680 1)" font-size="77.0">450 K</text>
<text transform="translate(2127.09 505.40) scale(0.9630 1)" font-size="77.0">450 K</text>
<text transform="translate(799.26 590.85) scale(0.9600 1)" font-size="77.0">500 K</text>
<text transform="translate(1374.64 581.30) scale(0.9680 1)" font-size="77.0">500 K</text>
<text transform="translate(2127.09 594.90) scale(0.9630 1)" font-size="77.0">500 K</text>
<text transform="translate(338.63 184.30) scale(0.9560 1)" font-size="76.0">(a)</text>
<text transform="translate(1047.58 175.00) scale(0.9710 1)" font-size="76.0">(b)</text>
<text transform="translate(1769.69 171.00) scale(0.9690 1)" font-size="76.0">(c)</text>
<text transform="translate(713.24 162.70) scale(0.9550 1)" font-size="76.5">device 1</text>
<text transform="translate(1367.34 152.40) scale(0.9550 1)" font-size="76.5">device 2</text>
<text transform="translate(2087.04 157.10) scale(0.9550 1)" font-size="76.5">device 3</text>
<text transform="translate(297.84 1296.00) scale(0.9630 1)" font-size="79.5">0.2</text>
<text transform="translate(431.74 1298.00) scale(0.9630 1)" font-size="79.5">0.3</text>
<text transform="translate(564.74 1298.00) scale(0.9630 1)" font-size="79.5">0.4</text>
<text transform="translate(688.04 1298.30) scale(0.9630 1)" font-size="79.5">0.5</text>
<text transform="translate(817.14 1300.20) scale(0.9630 1)" font-size="79.5">0.6</text>
<text transform="translate(933.94 1297.80) scale(0.9630 1)" font-size="79.5">0.7</text>
<text transform="translate(1037.94 1300.20) scale(0.9630 1)" font-size="79.5">0.2</text>
<text transform="translate(1160.14 1300.60) scale(0.9630 1)" font-size="79.5">0.3</text>
<text transform="translate(1282.24 1298.20) scale(0.9630 1)" font-size="79.5">0.4</text>
<text transform="translate(1405.14 1298.60) scale(0.9630 1)" font-size="79.5">0.5</text>
<text transform="translate(1534.94 1300.20) scale(0.9630 1)" font-size="79.5">0.6</text>
<text transform="translate(1651.04 1298.20) scale(0.9630 1)" font-size="79.5">0.7</text>
<text transform="translate(1750.07 1295.20) scale(0.9570 1)" font-size="84.3">0.2</text>
<text transform="translate(1868.07 1295.20) scale(0.9570 1)" font-size="84.3">0.3</text>
<text transform="translate(1986.57 1295.00) scale(0.9570 1)" font-size="84.3">0.4</text>
<text transform="translate(2105.87 1296.00) scale(0.9570 1)" font-size="84.3">0.5</text>
<text transform="translate(2225.17 1295.20) scale(0.9570 1)" font-size="84.3">0.6</text>
<text transform="translate(2344.17 1295.20) scale(0.9570 1)" font-size="84.3">0.7</text>
<text transform="translate(414.57 1367.80) scale(1.0000 1)" font-size="77.6">Position (μm)</text>
<text transform="translate(1153.77 1370.30) scale(1.0000 1)" font-size="77.6">Position (μm)</text>
<text transform="translate(1885.07 1372.90) scale(1.0000 1)" font-size="77.6">Position (μm)</text>
<text transform="translate(147.25 107.90) scale(0.9630 1)" font-size="79.4">10<tspan font-size="52.9" dy="-32.15" dx="0.2" letter-spacing="1.7">19</tspan></text>
<text transform="translate(147.25 478.80) scale(0.9630 1)" font-size="79.4">10<tspan font-size="52.9" dy="-32.15" dx="0.2" letter-spacing="1.7">16</tspan></text>
<text transform="translate(147.25 850.90) scale(0.9630 1)" font-size="79.4">10<tspan font-size="52.9" dy="-32.15" dx="0.2" letter-spacing="1.7">13</tspan></text>
<text transform="translate(147.25 1221.70) scale(0.9630 1)" font-size="79.4">10<tspan font-size="52.9" dy="-32.15" dx="0.2" letter-spacing="1.7">10</tspan></text>
<text transform="translate(90.80 986.70) rotate(-90) scale(0.9830 1)" font-size="79.0">Carrier concentration (cm<tspan font-size="52.8" dy="-30.4" dx="3">-3</tspan><tspan dy="30.4" dx="2">)</tspan></text>
</g>
</svg>
</body>
</html>
